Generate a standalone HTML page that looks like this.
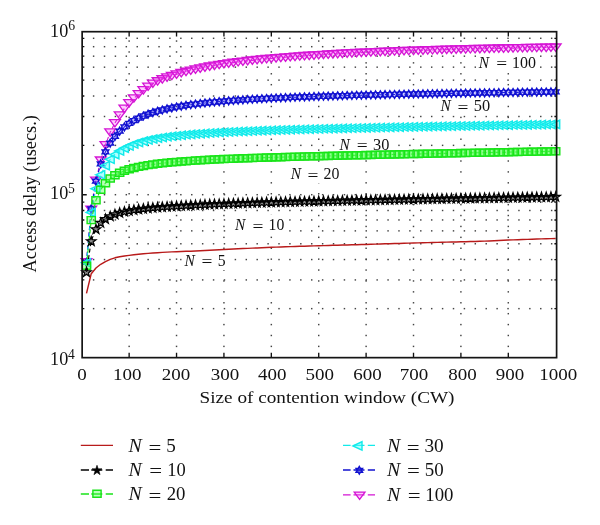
<!DOCTYPE html>
<html><head><meta charset="utf-8"><style>
html,body{margin:0;padding:0;background:#fff;overflow:hidden;}
svg{display:block;}
text{fill:#111;font-family:'Liberation Serif',serif;}
#m_n10{fill:#000;fill-opacity:0.45;stroke:#000;stroke-width:1.2;stroke-linejoin:miter;stroke-miterlimit:10;}
#m_n20{fill:#50ff50;fill-opacity:0.4;stroke:#18e418;stroke-width:1.45;}
#m_n30{fill:#50ffff;fill-opacity:0.45;stroke:#12eaea;stroke-width:1.45;}
#m_n50{fill:#5050ff;fill-opacity:0.3;stroke:#1010d0;stroke-width:1.45;}
#lm_n10{fill:#000;stroke:#000;stroke-width:0.6;}
#lm_n50{fill:#1010d0;fill-opacity:0.55;stroke:#1010d0;stroke-width:1.5;}
#m_n100{fill:#ff50ff;fill-opacity:0.3;stroke:#d414d4;stroke-width:1.3;}
</style></head>
<body><svg width="600" height="525" viewBox="0 0 600 525">
<rect width="600" height="525" fill="#fff"/>
<g fill="#444"><rect x="92.88" y="307.91" width="1.45" height="1.45"/><rect x="103.79" y="307.91" width="1.45" height="1.45"/><rect x="114.69" y="307.91" width="1.45" height="1.45"/><rect x="125.60" y="307.91" width="1.45" height="1.45"/><rect x="136.51" y="307.91" width="1.45" height="1.45"/><rect x="147.41" y="307.91" width="1.45" height="1.45"/><rect x="158.32" y="307.91" width="1.45" height="1.45"/><rect x="169.22" y="307.91" width="1.45" height="1.45"/><rect x="180.13" y="307.91" width="1.45" height="1.45"/><rect x="191.03" y="307.91" width="1.45" height="1.45"/><rect x="201.94" y="307.91" width="1.45" height="1.45"/><rect x="212.85" y="307.91" width="1.45" height="1.45"/><rect x="223.75" y="307.91" width="1.45" height="1.45"/><rect x="234.66" y="307.91" width="1.45" height="1.45"/><rect x="245.57" y="307.91" width="1.45" height="1.45"/><rect x="256.47" y="307.91" width="1.45" height="1.45"/><rect x="267.38" y="307.91" width="1.45" height="1.45"/><rect x="278.28" y="307.91" width="1.45" height="1.45"/><rect x="289.19" y="307.91" width="1.45" height="1.45"/><rect x="300.09" y="307.91" width="1.45" height="1.45"/><rect x="311.00" y="307.91" width="1.45" height="1.45"/><rect x="321.91" y="307.91" width="1.45" height="1.45"/><rect x="332.81" y="307.91" width="1.45" height="1.45"/><rect x="343.72" y="307.91" width="1.45" height="1.45"/><rect x="354.62" y="307.91" width="1.45" height="1.45"/><rect x="365.53" y="307.91" width="1.45" height="1.45"/><rect x="376.44" y="307.91" width="1.45" height="1.45"/><rect x="387.34" y="307.91" width="1.45" height="1.45"/><rect x="398.25" y="307.91" width="1.45" height="1.45"/><rect x="409.15" y="307.91" width="1.45" height="1.45"/><rect x="420.06" y="307.91" width="1.45" height="1.45"/><rect x="430.97" y="307.91" width="1.45" height="1.45"/><rect x="441.87" y="307.91" width="1.45" height="1.45"/><rect x="452.78" y="307.91" width="1.45" height="1.45"/><rect x="463.69" y="307.91" width="1.45" height="1.45"/><rect x="474.59" y="307.91" width="1.45" height="1.45"/><rect x="485.50" y="307.91" width="1.45" height="1.45"/><rect x="496.40" y="307.91" width="1.45" height="1.45"/><rect x="507.31" y="307.91" width="1.45" height="1.45"/><rect x="518.22" y="307.91" width="1.45" height="1.45"/><rect x="529.12" y="307.91" width="1.45" height="1.45"/><rect x="540.03" y="307.91" width="1.45" height="1.45"/><rect x="550.93" y="307.91" width="1.45" height="1.45"/><rect x="92.88" y="279.20" width="1.45" height="1.45"/><rect x="103.79" y="279.20" width="1.45" height="1.45"/><rect x="114.69" y="279.20" width="1.45" height="1.45"/><rect x="125.60" y="279.20" width="1.45" height="1.45"/><rect x="136.51" y="279.20" width="1.45" height="1.45"/><rect x="147.41" y="279.20" width="1.45" height="1.45"/><rect x="158.32" y="279.20" width="1.45" height="1.45"/><rect x="169.22" y="279.20" width="1.45" height="1.45"/><rect x="180.13" y="279.20" width="1.45" height="1.45"/><rect x="191.03" y="279.20" width="1.45" height="1.45"/><rect x="201.94" y="279.20" width="1.45" height="1.45"/><rect x="212.85" y="279.20" width="1.45" height="1.45"/><rect x="223.75" y="279.20" width="1.45" height="1.45"/><rect x="234.66" y="279.20" width="1.45" height="1.45"/><rect x="245.57" y="279.20" width="1.45" height="1.45"/><rect x="256.47" y="279.20" width="1.45" height="1.45"/><rect x="267.38" y="279.20" width="1.45" height="1.45"/><rect x="278.28" y="279.20" width="1.45" height="1.45"/><rect x="289.19" y="279.20" width="1.45" height="1.45"/><rect x="300.09" y="279.20" width="1.45" height="1.45"/><rect x="311.00" y="279.20" width="1.45" height="1.45"/><rect x="321.91" y="279.20" width="1.45" height="1.45"/><rect x="332.81" y="279.20" width="1.45" height="1.45"/><rect x="343.72" y="279.20" width="1.45" height="1.45"/><rect x="354.62" y="279.20" width="1.45" height="1.45"/><rect x="365.53" y="279.20" width="1.45" height="1.45"/><rect x="376.44" y="279.20" width="1.45" height="1.45"/><rect x="387.34" y="279.20" width="1.45" height="1.45"/><rect x="398.25" y="279.20" width="1.45" height="1.45"/><rect x="409.15" y="279.20" width="1.45" height="1.45"/><rect x="420.06" y="279.20" width="1.45" height="1.45"/><rect x="430.97" y="279.20" width="1.45" height="1.45"/><rect x="441.87" y="279.20" width="1.45" height="1.45"/><rect x="452.78" y="279.20" width="1.45" height="1.45"/><rect x="463.69" y="279.20" width="1.45" height="1.45"/><rect x="474.59" y="279.20" width="1.45" height="1.45"/><rect x="485.50" y="279.20" width="1.45" height="1.45"/><rect x="496.40" y="279.20" width="1.45" height="1.45"/><rect x="507.31" y="279.20" width="1.45" height="1.45"/><rect x="518.22" y="279.20" width="1.45" height="1.45"/><rect x="529.12" y="279.20" width="1.45" height="1.45"/><rect x="540.03" y="279.20" width="1.45" height="1.45"/><rect x="550.93" y="279.20" width="1.45" height="1.45"/><rect x="92.88" y="258.84" width="1.45" height="1.45"/><rect x="103.79" y="258.84" width="1.45" height="1.45"/><rect x="114.69" y="258.84" width="1.45" height="1.45"/><rect x="125.60" y="258.84" width="1.45" height="1.45"/><rect x="136.51" y="258.84" width="1.45" height="1.45"/><rect x="147.41" y="258.84" width="1.45" height="1.45"/><rect x="158.32" y="258.84" width="1.45" height="1.45"/><rect x="169.22" y="258.84" width="1.45" height="1.45"/><rect x="180.13" y="258.84" width="1.45" height="1.45"/><rect x="191.03" y="258.84" width="1.45" height="1.45"/><rect x="201.94" y="258.84" width="1.45" height="1.45"/><rect x="212.85" y="258.84" width="1.45" height="1.45"/><rect x="223.75" y="258.84" width="1.45" height="1.45"/><rect x="234.66" y="258.84" width="1.45" height="1.45"/><rect x="245.57" y="258.84" width="1.45" height="1.45"/><rect x="256.47" y="258.84" width="1.45" height="1.45"/><rect x="267.38" y="258.84" width="1.45" height="1.45"/><rect x="278.28" y="258.84" width="1.45" height="1.45"/><rect x="289.19" y="258.84" width="1.45" height="1.45"/><rect x="300.09" y="258.84" width="1.45" height="1.45"/><rect x="311.00" y="258.84" width="1.45" height="1.45"/><rect x="321.91" y="258.84" width="1.45" height="1.45"/><rect x="332.81" y="258.84" width="1.45" height="1.45"/><rect x="343.72" y="258.84" width="1.45" height="1.45"/><rect x="354.62" y="258.84" width="1.45" height="1.45"/><rect x="365.53" y="258.84" width="1.45" height="1.45"/><rect x="376.44" y="258.84" width="1.45" height="1.45"/><rect x="387.34" y="258.84" width="1.45" height="1.45"/><rect x="398.25" y="258.84" width="1.45" height="1.45"/><rect x="409.15" y="258.84" width="1.45" height="1.45"/><rect x="420.06" y="258.84" width="1.45" height="1.45"/><rect x="430.97" y="258.84" width="1.45" height="1.45"/><rect x="441.87" y="258.84" width="1.45" height="1.45"/><rect x="452.78" y="258.84" width="1.45" height="1.45"/><rect x="463.69" y="258.84" width="1.45" height="1.45"/><rect x="474.59" y="258.84" width="1.45" height="1.45"/><rect x="485.50" y="258.84" width="1.45" height="1.45"/><rect x="496.40" y="258.84" width="1.45" height="1.45"/><rect x="507.31" y="258.84" width="1.45" height="1.45"/><rect x="518.22" y="258.84" width="1.45" height="1.45"/><rect x="529.12" y="258.84" width="1.45" height="1.45"/><rect x="540.03" y="258.84" width="1.45" height="1.45"/><rect x="550.93" y="258.84" width="1.45" height="1.45"/><rect x="92.88" y="243.04" width="1.45" height="1.45"/><rect x="103.79" y="243.04" width="1.45" height="1.45"/><rect x="114.69" y="243.04" width="1.45" height="1.45"/><rect x="125.60" y="243.04" width="1.45" height="1.45"/><rect x="136.51" y="243.04" width="1.45" height="1.45"/><rect x="147.41" y="243.04" width="1.45" height="1.45"/><rect x="158.32" y="243.04" width="1.45" height="1.45"/><rect x="169.22" y="243.04" width="1.45" height="1.45"/><rect x="180.13" y="243.04" width="1.45" height="1.45"/><rect x="191.03" y="243.04" width="1.45" height="1.45"/><rect x="201.94" y="243.04" width="1.45" height="1.45"/><rect x="212.85" y="243.04" width="1.45" height="1.45"/><rect x="223.75" y="243.04" width="1.45" height="1.45"/><rect x="234.66" y="243.04" width="1.45" height="1.45"/><rect x="245.57" y="243.04" width="1.45" height="1.45"/><rect x="256.47" y="243.04" width="1.45" height="1.45"/><rect x="267.38" y="243.04" width="1.45" height="1.45"/><rect x="278.28" y="243.04" width="1.45" height="1.45"/><rect x="289.19" y="243.04" width="1.45" height="1.45"/><rect x="300.09" y="243.04" width="1.45" height="1.45"/><rect x="311.00" y="243.04" width="1.45" height="1.45"/><rect x="321.91" y="243.04" width="1.45" height="1.45"/><rect x="332.81" y="243.04" width="1.45" height="1.45"/><rect x="343.72" y="243.04" width="1.45" height="1.45"/><rect x="354.62" y="243.04" width="1.45" height="1.45"/><rect x="365.53" y="243.04" width="1.45" height="1.45"/><rect x="376.44" y="243.04" width="1.45" height="1.45"/><rect x="387.34" y="243.04" width="1.45" height="1.45"/><rect x="398.25" y="243.04" width="1.45" height="1.45"/><rect x="409.15" y="243.04" width="1.45" height="1.45"/><rect x="420.06" y="243.04" width="1.45" height="1.45"/><rect x="430.97" y="243.04" width="1.45" height="1.45"/><rect x="441.87" y="243.04" width="1.45" height="1.45"/><rect x="452.78" y="243.04" width="1.45" height="1.45"/><rect x="463.69" y="243.04" width="1.45" height="1.45"/><rect x="474.59" y="243.04" width="1.45" height="1.45"/><rect x="485.50" y="243.04" width="1.45" height="1.45"/><rect x="496.40" y="243.04" width="1.45" height="1.45"/><rect x="507.31" y="243.04" width="1.45" height="1.45"/><rect x="518.22" y="243.04" width="1.45" height="1.45"/><rect x="529.12" y="243.04" width="1.45" height="1.45"/><rect x="540.03" y="243.04" width="1.45" height="1.45"/><rect x="550.93" y="243.04" width="1.45" height="1.45"/><rect x="92.88" y="230.14" width="1.45" height="1.45"/><rect x="103.79" y="230.14" width="1.45" height="1.45"/><rect x="114.69" y="230.14" width="1.45" height="1.45"/><rect x="125.60" y="230.14" width="1.45" height="1.45"/><rect x="136.51" y="230.14" width="1.45" height="1.45"/><rect x="147.41" y="230.14" width="1.45" height="1.45"/><rect x="158.32" y="230.14" width="1.45" height="1.45"/><rect x="169.22" y="230.14" width="1.45" height="1.45"/><rect x="180.13" y="230.14" width="1.45" height="1.45"/><rect x="191.03" y="230.14" width="1.45" height="1.45"/><rect x="201.94" y="230.14" width="1.45" height="1.45"/><rect x="212.85" y="230.14" width="1.45" height="1.45"/><rect x="223.75" y="230.14" width="1.45" height="1.45"/><rect x="234.66" y="230.14" width="1.45" height="1.45"/><rect x="245.57" y="230.14" width="1.45" height="1.45"/><rect x="256.47" y="230.14" width="1.45" height="1.45"/><rect x="267.38" y="230.14" width="1.45" height="1.45"/><rect x="278.28" y="230.14" width="1.45" height="1.45"/><rect x="289.19" y="230.14" width="1.45" height="1.45"/><rect x="300.09" y="230.14" width="1.45" height="1.45"/><rect x="311.00" y="230.14" width="1.45" height="1.45"/><rect x="321.91" y="230.14" width="1.45" height="1.45"/><rect x="332.81" y="230.14" width="1.45" height="1.45"/><rect x="343.72" y="230.14" width="1.45" height="1.45"/><rect x="354.62" y="230.14" width="1.45" height="1.45"/><rect x="365.53" y="230.14" width="1.45" height="1.45"/><rect x="376.44" y="230.14" width="1.45" height="1.45"/><rect x="387.34" y="230.14" width="1.45" height="1.45"/><rect x="398.25" y="230.14" width="1.45" height="1.45"/><rect x="409.15" y="230.14" width="1.45" height="1.45"/><rect x="420.06" y="230.14" width="1.45" height="1.45"/><rect x="430.97" y="230.14" width="1.45" height="1.45"/><rect x="441.87" y="230.14" width="1.45" height="1.45"/><rect x="452.78" y="230.14" width="1.45" height="1.45"/><rect x="463.69" y="230.14" width="1.45" height="1.45"/><rect x="474.59" y="230.14" width="1.45" height="1.45"/><rect x="485.50" y="230.14" width="1.45" height="1.45"/><rect x="496.40" y="230.14" width="1.45" height="1.45"/><rect x="507.31" y="230.14" width="1.45" height="1.45"/><rect x="518.22" y="230.14" width="1.45" height="1.45"/><rect x="529.12" y="230.14" width="1.45" height="1.45"/><rect x="540.03" y="230.14" width="1.45" height="1.45"/><rect x="550.93" y="230.14" width="1.45" height="1.45"/><rect x="92.88" y="219.22" width="1.45" height="1.45"/><rect x="103.79" y="219.22" width="1.45" height="1.45"/><rect x="114.69" y="219.22" width="1.45" height="1.45"/><rect x="125.60" y="219.22" width="1.45" height="1.45"/><rect x="136.51" y="219.22" width="1.45" height="1.45"/><rect x="147.41" y="219.22" width="1.45" height="1.45"/><rect x="158.32" y="219.22" width="1.45" height="1.45"/><rect x="169.22" y="219.22" width="1.45" height="1.45"/><rect x="180.13" y="219.22" width="1.45" height="1.45"/><rect x="191.03" y="219.22" width="1.45" height="1.45"/><rect x="201.94" y="219.22" width="1.45" height="1.45"/><rect x="212.85" y="219.22" width="1.45" height="1.45"/><rect x="223.75" y="219.22" width="1.45" height="1.45"/><rect x="234.66" y="219.22" width="1.45" height="1.45"/><rect x="245.57" y="219.22" width="1.45" height="1.45"/><rect x="256.47" y="219.22" width="1.45" height="1.45"/><rect x="267.38" y="219.22" width="1.45" height="1.45"/><rect x="278.28" y="219.22" width="1.45" height="1.45"/><rect x="289.19" y="219.22" width="1.45" height="1.45"/><rect x="300.09" y="219.22" width="1.45" height="1.45"/><rect x="311.00" y="219.22" width="1.45" height="1.45"/><rect x="321.91" y="219.22" width="1.45" height="1.45"/><rect x="332.81" y="219.22" width="1.45" height="1.45"/><rect x="343.72" y="219.22" width="1.45" height="1.45"/><rect x="354.62" y="219.22" width="1.45" height="1.45"/><rect x="365.53" y="219.22" width="1.45" height="1.45"/><rect x="376.44" y="219.22" width="1.45" height="1.45"/><rect x="387.34" y="219.22" width="1.45" height="1.45"/><rect x="398.25" y="219.22" width="1.45" height="1.45"/><rect x="409.15" y="219.22" width="1.45" height="1.45"/><rect x="420.06" y="219.22" width="1.45" height="1.45"/><rect x="430.97" y="219.22" width="1.45" height="1.45"/><rect x="441.87" y="219.22" width="1.45" height="1.45"/><rect x="452.78" y="219.22" width="1.45" height="1.45"/><rect x="463.69" y="219.22" width="1.45" height="1.45"/><rect x="474.59" y="219.22" width="1.45" height="1.45"/><rect x="485.50" y="219.22" width="1.45" height="1.45"/><rect x="496.40" y="219.22" width="1.45" height="1.45"/><rect x="507.31" y="219.22" width="1.45" height="1.45"/><rect x="518.22" y="219.22" width="1.45" height="1.45"/><rect x="529.12" y="219.22" width="1.45" height="1.45"/><rect x="540.03" y="219.22" width="1.45" height="1.45"/><rect x="550.93" y="219.22" width="1.45" height="1.45"/><rect x="92.88" y="209.77" width="1.45" height="1.45"/><rect x="103.79" y="209.77" width="1.45" height="1.45"/><rect x="114.69" y="209.77" width="1.45" height="1.45"/><rect x="125.60" y="209.77" width="1.45" height="1.45"/><rect x="136.51" y="209.77" width="1.45" height="1.45"/><rect x="147.41" y="209.77" width="1.45" height="1.45"/><rect x="158.32" y="209.77" width="1.45" height="1.45"/><rect x="169.22" y="209.77" width="1.45" height="1.45"/><rect x="180.13" y="209.77" width="1.45" height="1.45"/><rect x="191.03" y="209.77" width="1.45" height="1.45"/><rect x="201.94" y="209.77" width="1.45" height="1.45"/><rect x="212.85" y="209.77" width="1.45" height="1.45"/><rect x="223.75" y="209.77" width="1.45" height="1.45"/><rect x="234.66" y="209.77" width="1.45" height="1.45"/><rect x="245.57" y="209.77" width="1.45" height="1.45"/><rect x="256.47" y="209.77" width="1.45" height="1.45"/><rect x="267.38" y="209.77" width="1.45" height="1.45"/><rect x="278.28" y="209.77" width="1.45" height="1.45"/><rect x="289.19" y="209.77" width="1.45" height="1.45"/><rect x="300.09" y="209.77" width="1.45" height="1.45"/><rect x="311.00" y="209.77" width="1.45" height="1.45"/><rect x="321.91" y="209.77" width="1.45" height="1.45"/><rect x="332.81" y="209.77" width="1.45" height="1.45"/><rect x="343.72" y="209.77" width="1.45" height="1.45"/><rect x="354.62" y="209.77" width="1.45" height="1.45"/><rect x="365.53" y="209.77" width="1.45" height="1.45"/><rect x="376.44" y="209.77" width="1.45" height="1.45"/><rect x="387.34" y="209.77" width="1.45" height="1.45"/><rect x="398.25" y="209.77" width="1.45" height="1.45"/><rect x="409.15" y="209.77" width="1.45" height="1.45"/><rect x="420.06" y="209.77" width="1.45" height="1.45"/><rect x="430.97" y="209.77" width="1.45" height="1.45"/><rect x="441.87" y="209.77" width="1.45" height="1.45"/><rect x="452.78" y="209.77" width="1.45" height="1.45"/><rect x="463.69" y="209.77" width="1.45" height="1.45"/><rect x="474.59" y="209.77" width="1.45" height="1.45"/><rect x="485.50" y="209.77" width="1.45" height="1.45"/><rect x="496.40" y="209.77" width="1.45" height="1.45"/><rect x="507.31" y="209.77" width="1.45" height="1.45"/><rect x="518.22" y="209.77" width="1.45" height="1.45"/><rect x="529.12" y="209.77" width="1.45" height="1.45"/><rect x="540.03" y="209.77" width="1.45" height="1.45"/><rect x="550.93" y="209.77" width="1.45" height="1.45"/><rect x="92.88" y="201.43" width="1.45" height="1.45"/><rect x="103.79" y="201.43" width="1.45" height="1.45"/><rect x="114.69" y="201.43" width="1.45" height="1.45"/><rect x="125.60" y="201.43" width="1.45" height="1.45"/><rect x="136.51" y="201.43" width="1.45" height="1.45"/><rect x="147.41" y="201.43" width="1.45" height="1.45"/><rect x="158.32" y="201.43" width="1.45" height="1.45"/><rect x="169.22" y="201.43" width="1.45" height="1.45"/><rect x="180.13" y="201.43" width="1.45" height="1.45"/><rect x="191.03" y="201.43" width="1.45" height="1.45"/><rect x="201.94" y="201.43" width="1.45" height="1.45"/><rect x="212.85" y="201.43" width="1.45" height="1.45"/><rect x="223.75" y="201.43" width="1.45" height="1.45"/><rect x="234.66" y="201.43" width="1.45" height="1.45"/><rect x="245.57" y="201.43" width="1.45" height="1.45"/><rect x="256.47" y="201.43" width="1.45" height="1.45"/><rect x="267.38" y="201.43" width="1.45" height="1.45"/><rect x="278.28" y="201.43" width="1.45" height="1.45"/><rect x="289.19" y="201.43" width="1.45" height="1.45"/><rect x="300.09" y="201.43" width="1.45" height="1.45"/><rect x="311.00" y="201.43" width="1.45" height="1.45"/><rect x="321.91" y="201.43" width="1.45" height="1.45"/><rect x="332.81" y="201.43" width="1.45" height="1.45"/><rect x="343.72" y="201.43" width="1.45" height="1.45"/><rect x="354.62" y="201.43" width="1.45" height="1.45"/><rect x="365.53" y="201.43" width="1.45" height="1.45"/><rect x="376.44" y="201.43" width="1.45" height="1.45"/><rect x="387.34" y="201.43" width="1.45" height="1.45"/><rect x="398.25" y="201.43" width="1.45" height="1.45"/><rect x="409.15" y="201.43" width="1.45" height="1.45"/><rect x="420.06" y="201.43" width="1.45" height="1.45"/><rect x="430.97" y="201.43" width="1.45" height="1.45"/><rect x="441.87" y="201.43" width="1.45" height="1.45"/><rect x="452.78" y="201.43" width="1.45" height="1.45"/><rect x="463.69" y="201.43" width="1.45" height="1.45"/><rect x="474.59" y="201.43" width="1.45" height="1.45"/><rect x="485.50" y="201.43" width="1.45" height="1.45"/><rect x="496.40" y="201.43" width="1.45" height="1.45"/><rect x="507.31" y="201.43" width="1.45" height="1.45"/><rect x="518.22" y="201.43" width="1.45" height="1.45"/><rect x="529.12" y="201.43" width="1.45" height="1.45"/><rect x="540.03" y="201.43" width="1.45" height="1.45"/><rect x="550.93" y="201.43" width="1.45" height="1.45"/><rect x="92.88" y="193.97" width="1.45" height="1.45"/><rect x="103.79" y="193.97" width="1.45" height="1.45"/><rect x="114.69" y="193.97" width="1.45" height="1.45"/><rect x="125.60" y="193.97" width="1.45" height="1.45"/><rect x="136.51" y="193.97" width="1.45" height="1.45"/><rect x="147.41" y="193.97" width="1.45" height="1.45"/><rect x="158.32" y="193.97" width="1.45" height="1.45"/><rect x="169.22" y="193.97" width="1.45" height="1.45"/><rect x="180.13" y="193.97" width="1.45" height="1.45"/><rect x="191.03" y="193.97" width="1.45" height="1.45"/><rect x="201.94" y="193.97" width="1.45" height="1.45"/><rect x="212.85" y="193.97" width="1.45" height="1.45"/><rect x="223.75" y="193.97" width="1.45" height="1.45"/><rect x="234.66" y="193.97" width="1.45" height="1.45"/><rect x="245.57" y="193.97" width="1.45" height="1.45"/><rect x="256.47" y="193.97" width="1.45" height="1.45"/><rect x="267.38" y="193.97" width="1.45" height="1.45"/><rect x="278.28" y="193.97" width="1.45" height="1.45"/><rect x="289.19" y="193.97" width="1.45" height="1.45"/><rect x="300.09" y="193.97" width="1.45" height="1.45"/><rect x="311.00" y="193.97" width="1.45" height="1.45"/><rect x="321.91" y="193.97" width="1.45" height="1.45"/><rect x="332.81" y="193.97" width="1.45" height="1.45"/><rect x="343.72" y="193.97" width="1.45" height="1.45"/><rect x="354.62" y="193.97" width="1.45" height="1.45"/><rect x="365.53" y="193.97" width="1.45" height="1.45"/><rect x="376.44" y="193.97" width="1.45" height="1.45"/><rect x="387.34" y="193.97" width="1.45" height="1.45"/><rect x="398.25" y="193.97" width="1.45" height="1.45"/><rect x="409.15" y="193.97" width="1.45" height="1.45"/><rect x="420.06" y="193.97" width="1.45" height="1.45"/><rect x="430.97" y="193.97" width="1.45" height="1.45"/><rect x="441.87" y="193.97" width="1.45" height="1.45"/><rect x="452.78" y="193.97" width="1.45" height="1.45"/><rect x="463.69" y="193.97" width="1.45" height="1.45"/><rect x="474.59" y="193.97" width="1.45" height="1.45"/><rect x="485.50" y="193.97" width="1.45" height="1.45"/><rect x="496.40" y="193.97" width="1.45" height="1.45"/><rect x="507.31" y="193.97" width="1.45" height="1.45"/><rect x="518.22" y="193.97" width="1.45" height="1.45"/><rect x="529.12" y="193.97" width="1.45" height="1.45"/><rect x="540.03" y="193.97" width="1.45" height="1.45"/><rect x="550.93" y="193.97" width="1.45" height="1.45"/><rect x="92.88" y="144.64" width="1.45" height="1.45"/><rect x="103.79" y="144.64" width="1.45" height="1.45"/><rect x="114.69" y="144.64" width="1.45" height="1.45"/><rect x="125.60" y="144.64" width="1.45" height="1.45"/><rect x="136.51" y="144.64" width="1.45" height="1.45"/><rect x="147.41" y="144.64" width="1.45" height="1.45"/><rect x="158.32" y="144.64" width="1.45" height="1.45"/><rect x="169.22" y="144.64" width="1.45" height="1.45"/><rect x="180.13" y="144.64" width="1.45" height="1.45"/><rect x="191.03" y="144.64" width="1.45" height="1.45"/><rect x="201.94" y="144.64" width="1.45" height="1.45"/><rect x="212.85" y="144.64" width="1.45" height="1.45"/><rect x="223.75" y="144.64" width="1.45" height="1.45"/><rect x="234.66" y="144.64" width="1.45" height="1.45"/><rect x="245.57" y="144.64" width="1.45" height="1.45"/><rect x="256.47" y="144.64" width="1.45" height="1.45"/><rect x="267.38" y="144.64" width="1.45" height="1.45"/><rect x="278.28" y="144.64" width="1.45" height="1.45"/><rect x="289.19" y="144.64" width="1.45" height="1.45"/><rect x="300.09" y="144.64" width="1.45" height="1.45"/><rect x="311.00" y="144.64" width="1.45" height="1.45"/><rect x="321.91" y="144.64" width="1.45" height="1.45"/><rect x="332.81" y="144.64" width="1.45" height="1.45"/><rect x="343.72" y="144.64" width="1.45" height="1.45"/><rect x="354.62" y="144.64" width="1.45" height="1.45"/><rect x="365.53" y="144.64" width="1.45" height="1.45"/><rect x="376.44" y="144.64" width="1.45" height="1.45"/><rect x="387.34" y="144.64" width="1.45" height="1.45"/><rect x="398.25" y="144.64" width="1.45" height="1.45"/><rect x="409.15" y="144.64" width="1.45" height="1.45"/><rect x="420.06" y="144.64" width="1.45" height="1.45"/><rect x="430.97" y="144.64" width="1.45" height="1.45"/><rect x="441.87" y="144.64" width="1.45" height="1.45"/><rect x="452.78" y="144.64" width="1.45" height="1.45"/><rect x="463.69" y="144.64" width="1.45" height="1.45"/><rect x="474.59" y="144.64" width="1.45" height="1.45"/><rect x="485.50" y="144.64" width="1.45" height="1.45"/><rect x="496.40" y="144.64" width="1.45" height="1.45"/><rect x="507.31" y="144.64" width="1.45" height="1.45"/><rect x="518.22" y="144.64" width="1.45" height="1.45"/><rect x="529.12" y="144.64" width="1.45" height="1.45"/><rect x="540.03" y="144.64" width="1.45" height="1.45"/><rect x="550.93" y="144.64" width="1.45" height="1.45"/><rect x="92.88" y="115.77" width="1.45" height="1.45"/><rect x="103.79" y="115.77" width="1.45" height="1.45"/><rect x="114.69" y="115.77" width="1.45" height="1.45"/><rect x="125.60" y="115.77" width="1.45" height="1.45"/><rect x="136.51" y="115.77" width="1.45" height="1.45"/><rect x="147.41" y="115.77" width="1.45" height="1.45"/><rect x="158.32" y="115.77" width="1.45" height="1.45"/><rect x="169.22" y="115.77" width="1.45" height="1.45"/><rect x="180.13" y="115.77" width="1.45" height="1.45"/><rect x="191.03" y="115.77" width="1.45" height="1.45"/><rect x="201.94" y="115.77" width="1.45" height="1.45"/><rect x="212.85" y="115.77" width="1.45" height="1.45"/><rect x="223.75" y="115.77" width="1.45" height="1.45"/><rect x="234.66" y="115.77" width="1.45" height="1.45"/><rect x="245.57" y="115.77" width="1.45" height="1.45"/><rect x="256.47" y="115.77" width="1.45" height="1.45"/><rect x="267.38" y="115.77" width="1.45" height="1.45"/><rect x="278.28" y="115.77" width="1.45" height="1.45"/><rect x="289.19" y="115.77" width="1.45" height="1.45"/><rect x="300.09" y="115.77" width="1.45" height="1.45"/><rect x="311.00" y="115.77" width="1.45" height="1.45"/><rect x="321.91" y="115.77" width="1.45" height="1.45"/><rect x="332.81" y="115.77" width="1.45" height="1.45"/><rect x="343.72" y="115.77" width="1.45" height="1.45"/><rect x="354.62" y="115.77" width="1.45" height="1.45"/><rect x="365.53" y="115.77" width="1.45" height="1.45"/><rect x="376.44" y="115.77" width="1.45" height="1.45"/><rect x="387.34" y="115.77" width="1.45" height="1.45"/><rect x="398.25" y="115.77" width="1.45" height="1.45"/><rect x="409.15" y="115.77" width="1.45" height="1.45"/><rect x="420.06" y="115.77" width="1.45" height="1.45"/><rect x="430.97" y="115.77" width="1.45" height="1.45"/><rect x="441.87" y="115.77" width="1.45" height="1.45"/><rect x="452.78" y="115.77" width="1.45" height="1.45"/><rect x="463.69" y="115.77" width="1.45" height="1.45"/><rect x="474.59" y="115.77" width="1.45" height="1.45"/><rect x="485.50" y="115.77" width="1.45" height="1.45"/><rect x="496.40" y="115.77" width="1.45" height="1.45"/><rect x="507.31" y="115.77" width="1.45" height="1.45"/><rect x="518.22" y="115.77" width="1.45" height="1.45"/><rect x="529.12" y="115.77" width="1.45" height="1.45"/><rect x="540.03" y="115.77" width="1.45" height="1.45"/><rect x="550.93" y="115.77" width="1.45" height="1.45"/><rect x="92.88" y="95.30" width="1.45" height="1.45"/><rect x="103.79" y="95.30" width="1.45" height="1.45"/><rect x="114.69" y="95.30" width="1.45" height="1.45"/><rect x="125.60" y="95.30" width="1.45" height="1.45"/><rect x="136.51" y="95.30" width="1.45" height="1.45"/><rect x="147.41" y="95.30" width="1.45" height="1.45"/><rect x="158.32" y="95.30" width="1.45" height="1.45"/><rect x="169.22" y="95.30" width="1.45" height="1.45"/><rect x="180.13" y="95.30" width="1.45" height="1.45"/><rect x="191.03" y="95.30" width="1.45" height="1.45"/><rect x="201.94" y="95.30" width="1.45" height="1.45"/><rect x="212.85" y="95.30" width="1.45" height="1.45"/><rect x="223.75" y="95.30" width="1.45" height="1.45"/><rect x="234.66" y="95.30" width="1.45" height="1.45"/><rect x="245.57" y="95.30" width="1.45" height="1.45"/><rect x="256.47" y="95.30" width="1.45" height="1.45"/><rect x="267.38" y="95.30" width="1.45" height="1.45"/><rect x="278.28" y="95.30" width="1.45" height="1.45"/><rect x="289.19" y="95.30" width="1.45" height="1.45"/><rect x="300.09" y="95.30" width="1.45" height="1.45"/><rect x="311.00" y="95.30" width="1.45" height="1.45"/><rect x="321.91" y="95.30" width="1.45" height="1.45"/><rect x="332.81" y="95.30" width="1.45" height="1.45"/><rect x="343.72" y="95.30" width="1.45" height="1.45"/><rect x="354.62" y="95.30" width="1.45" height="1.45"/><rect x="365.53" y="95.30" width="1.45" height="1.45"/><rect x="376.44" y="95.30" width="1.45" height="1.45"/><rect x="387.34" y="95.30" width="1.45" height="1.45"/><rect x="398.25" y="95.30" width="1.45" height="1.45"/><rect x="409.15" y="95.30" width="1.45" height="1.45"/><rect x="420.06" y="95.30" width="1.45" height="1.45"/><rect x="430.97" y="95.30" width="1.45" height="1.45"/><rect x="441.87" y="95.30" width="1.45" height="1.45"/><rect x="452.78" y="95.30" width="1.45" height="1.45"/><rect x="463.69" y="95.30" width="1.45" height="1.45"/><rect x="474.59" y="95.30" width="1.45" height="1.45"/><rect x="485.50" y="95.30" width="1.45" height="1.45"/><rect x="496.40" y="95.30" width="1.45" height="1.45"/><rect x="507.31" y="95.30" width="1.45" height="1.45"/><rect x="518.22" y="95.30" width="1.45" height="1.45"/><rect x="529.12" y="95.30" width="1.45" height="1.45"/><rect x="540.03" y="95.30" width="1.45" height="1.45"/><rect x="550.93" y="95.30" width="1.45" height="1.45"/><rect x="92.88" y="79.41" width="1.45" height="1.45"/><rect x="103.79" y="79.41" width="1.45" height="1.45"/><rect x="114.69" y="79.41" width="1.45" height="1.45"/><rect x="125.60" y="79.41" width="1.45" height="1.45"/><rect x="136.51" y="79.41" width="1.45" height="1.45"/><rect x="147.41" y="79.41" width="1.45" height="1.45"/><rect x="158.32" y="79.41" width="1.45" height="1.45"/><rect x="169.22" y="79.41" width="1.45" height="1.45"/><rect x="180.13" y="79.41" width="1.45" height="1.45"/><rect x="191.03" y="79.41" width="1.45" height="1.45"/><rect x="201.94" y="79.41" width="1.45" height="1.45"/><rect x="212.85" y="79.41" width="1.45" height="1.45"/><rect x="223.75" y="79.41" width="1.45" height="1.45"/><rect x="234.66" y="79.41" width="1.45" height="1.45"/><rect x="245.57" y="79.41" width="1.45" height="1.45"/><rect x="256.47" y="79.41" width="1.45" height="1.45"/><rect x="267.38" y="79.41" width="1.45" height="1.45"/><rect x="278.28" y="79.41" width="1.45" height="1.45"/><rect x="289.19" y="79.41" width="1.45" height="1.45"/><rect x="300.09" y="79.41" width="1.45" height="1.45"/><rect x="311.00" y="79.41" width="1.45" height="1.45"/><rect x="321.91" y="79.41" width="1.45" height="1.45"/><rect x="332.81" y="79.41" width="1.45" height="1.45"/><rect x="343.72" y="79.41" width="1.45" height="1.45"/><rect x="354.62" y="79.41" width="1.45" height="1.45"/><rect x="365.53" y="79.41" width="1.45" height="1.45"/><rect x="376.44" y="79.41" width="1.45" height="1.45"/><rect x="387.34" y="79.41" width="1.45" height="1.45"/><rect x="398.25" y="79.41" width="1.45" height="1.45"/><rect x="409.15" y="79.41" width="1.45" height="1.45"/><rect x="420.06" y="79.41" width="1.45" height="1.45"/><rect x="430.97" y="79.41" width="1.45" height="1.45"/><rect x="441.87" y="79.41" width="1.45" height="1.45"/><rect x="452.78" y="79.41" width="1.45" height="1.45"/><rect x="463.69" y="79.41" width="1.45" height="1.45"/><rect x="474.59" y="79.41" width="1.45" height="1.45"/><rect x="485.50" y="79.41" width="1.45" height="1.45"/><rect x="496.40" y="79.41" width="1.45" height="1.45"/><rect x="507.31" y="79.41" width="1.45" height="1.45"/><rect x="518.22" y="79.41" width="1.45" height="1.45"/><rect x="529.12" y="79.41" width="1.45" height="1.45"/><rect x="540.03" y="79.41" width="1.45" height="1.45"/><rect x="550.93" y="79.41" width="1.45" height="1.45"/><rect x="92.88" y="66.44" width="1.45" height="1.45"/><rect x="103.79" y="66.44" width="1.45" height="1.45"/><rect x="114.69" y="66.44" width="1.45" height="1.45"/><rect x="125.60" y="66.44" width="1.45" height="1.45"/><rect x="136.51" y="66.44" width="1.45" height="1.45"/><rect x="147.41" y="66.44" width="1.45" height="1.45"/><rect x="158.32" y="66.44" width="1.45" height="1.45"/><rect x="169.22" y="66.44" width="1.45" height="1.45"/><rect x="180.13" y="66.44" width="1.45" height="1.45"/><rect x="191.03" y="66.44" width="1.45" height="1.45"/><rect x="201.94" y="66.44" width="1.45" height="1.45"/><rect x="212.85" y="66.44" width="1.45" height="1.45"/><rect x="223.75" y="66.44" width="1.45" height="1.45"/><rect x="234.66" y="66.44" width="1.45" height="1.45"/><rect x="245.57" y="66.44" width="1.45" height="1.45"/><rect x="256.47" y="66.44" width="1.45" height="1.45"/><rect x="267.38" y="66.44" width="1.45" height="1.45"/><rect x="278.28" y="66.44" width="1.45" height="1.45"/><rect x="289.19" y="66.44" width="1.45" height="1.45"/><rect x="300.09" y="66.44" width="1.45" height="1.45"/><rect x="311.00" y="66.44" width="1.45" height="1.45"/><rect x="321.91" y="66.44" width="1.45" height="1.45"/><rect x="332.81" y="66.44" width="1.45" height="1.45"/><rect x="343.72" y="66.44" width="1.45" height="1.45"/><rect x="354.62" y="66.44" width="1.45" height="1.45"/><rect x="365.53" y="66.44" width="1.45" height="1.45"/><rect x="376.44" y="66.44" width="1.45" height="1.45"/><rect x="387.34" y="66.44" width="1.45" height="1.45"/><rect x="398.25" y="66.44" width="1.45" height="1.45"/><rect x="409.15" y="66.44" width="1.45" height="1.45"/><rect x="420.06" y="66.44" width="1.45" height="1.45"/><rect x="430.97" y="66.44" width="1.45" height="1.45"/><rect x="441.87" y="66.44" width="1.45" height="1.45"/><rect x="452.78" y="66.44" width="1.45" height="1.45"/><rect x="463.69" y="66.44" width="1.45" height="1.45"/><rect x="474.59" y="66.44" width="1.45" height="1.45"/><rect x="485.50" y="66.44" width="1.45" height="1.45"/><rect x="496.40" y="66.44" width="1.45" height="1.45"/><rect x="507.31" y="66.44" width="1.45" height="1.45"/><rect x="518.22" y="66.44" width="1.45" height="1.45"/><rect x="529.12" y="66.44" width="1.45" height="1.45"/><rect x="540.03" y="66.44" width="1.45" height="1.45"/><rect x="550.93" y="66.44" width="1.45" height="1.45"/><rect x="92.88" y="55.46" width="1.45" height="1.45"/><rect x="103.79" y="55.46" width="1.45" height="1.45"/><rect x="114.69" y="55.46" width="1.45" height="1.45"/><rect x="125.60" y="55.46" width="1.45" height="1.45"/><rect x="136.51" y="55.46" width="1.45" height="1.45"/><rect x="147.41" y="55.46" width="1.45" height="1.45"/><rect x="158.32" y="55.46" width="1.45" height="1.45"/><rect x="169.22" y="55.46" width="1.45" height="1.45"/><rect x="180.13" y="55.46" width="1.45" height="1.45"/><rect x="191.03" y="55.46" width="1.45" height="1.45"/><rect x="201.94" y="55.46" width="1.45" height="1.45"/><rect x="212.85" y="55.46" width="1.45" height="1.45"/><rect x="223.75" y="55.46" width="1.45" height="1.45"/><rect x="234.66" y="55.46" width="1.45" height="1.45"/><rect x="245.57" y="55.46" width="1.45" height="1.45"/><rect x="256.47" y="55.46" width="1.45" height="1.45"/><rect x="267.38" y="55.46" width="1.45" height="1.45"/><rect x="278.28" y="55.46" width="1.45" height="1.45"/><rect x="289.19" y="55.46" width="1.45" height="1.45"/><rect x="300.09" y="55.46" width="1.45" height="1.45"/><rect x="311.00" y="55.46" width="1.45" height="1.45"/><rect x="321.91" y="55.46" width="1.45" height="1.45"/><rect x="332.81" y="55.46" width="1.45" height="1.45"/><rect x="343.72" y="55.46" width="1.45" height="1.45"/><rect x="354.62" y="55.46" width="1.45" height="1.45"/><rect x="365.53" y="55.46" width="1.45" height="1.45"/><rect x="376.44" y="55.46" width="1.45" height="1.45"/><rect x="387.34" y="55.46" width="1.45" height="1.45"/><rect x="398.25" y="55.46" width="1.45" height="1.45"/><rect x="409.15" y="55.46" width="1.45" height="1.45"/><rect x="420.06" y="55.46" width="1.45" height="1.45"/><rect x="430.97" y="55.46" width="1.45" height="1.45"/><rect x="441.87" y="55.46" width="1.45" height="1.45"/><rect x="452.78" y="55.46" width="1.45" height="1.45"/><rect x="463.69" y="55.46" width="1.45" height="1.45"/><rect x="474.59" y="55.46" width="1.45" height="1.45"/><rect x="485.50" y="55.46" width="1.45" height="1.45"/><rect x="496.40" y="55.46" width="1.45" height="1.45"/><rect x="507.31" y="55.46" width="1.45" height="1.45"/><rect x="518.22" y="55.46" width="1.45" height="1.45"/><rect x="529.12" y="55.46" width="1.45" height="1.45"/><rect x="540.03" y="55.46" width="1.45" height="1.45"/><rect x="550.93" y="55.46" width="1.45" height="1.45"/><rect x="92.88" y="45.96" width="1.45" height="1.45"/><rect x="103.79" y="45.96" width="1.45" height="1.45"/><rect x="114.69" y="45.96" width="1.45" height="1.45"/><rect x="125.60" y="45.96" width="1.45" height="1.45"/><rect x="136.51" y="45.96" width="1.45" height="1.45"/><rect x="147.41" y="45.96" width="1.45" height="1.45"/><rect x="158.32" y="45.96" width="1.45" height="1.45"/><rect x="169.22" y="45.96" width="1.45" height="1.45"/><rect x="180.13" y="45.96" width="1.45" height="1.45"/><rect x="191.03" y="45.96" width="1.45" height="1.45"/><rect x="201.94" y="45.96" width="1.45" height="1.45"/><rect x="212.85" y="45.96" width="1.45" height="1.45"/><rect x="223.75" y="45.96" width="1.45" height="1.45"/><rect x="234.66" y="45.96" width="1.45" height="1.45"/><rect x="245.57" y="45.96" width="1.45" height="1.45"/><rect x="256.47" y="45.96" width="1.45" height="1.45"/><rect x="267.38" y="45.96" width="1.45" height="1.45"/><rect x="278.28" y="45.96" width="1.45" height="1.45"/><rect x="289.19" y="45.96" width="1.45" height="1.45"/><rect x="300.09" y="45.96" width="1.45" height="1.45"/><rect x="311.00" y="45.96" width="1.45" height="1.45"/><rect x="321.91" y="45.96" width="1.45" height="1.45"/><rect x="332.81" y="45.96" width="1.45" height="1.45"/><rect x="343.72" y="45.96" width="1.45" height="1.45"/><rect x="354.62" y="45.96" width="1.45" height="1.45"/><rect x="365.53" y="45.96" width="1.45" height="1.45"/><rect x="376.44" y="45.96" width="1.45" height="1.45"/><rect x="387.34" y="45.96" width="1.45" height="1.45"/><rect x="398.25" y="45.96" width="1.45" height="1.45"/><rect x="409.15" y="45.96" width="1.45" height="1.45"/><rect x="420.06" y="45.96" width="1.45" height="1.45"/><rect x="430.97" y="45.96" width="1.45" height="1.45"/><rect x="441.87" y="45.96" width="1.45" height="1.45"/><rect x="452.78" y="45.96" width="1.45" height="1.45"/><rect x="463.69" y="45.96" width="1.45" height="1.45"/><rect x="474.59" y="45.96" width="1.45" height="1.45"/><rect x="485.50" y="45.96" width="1.45" height="1.45"/><rect x="496.40" y="45.96" width="1.45" height="1.45"/><rect x="507.31" y="45.96" width="1.45" height="1.45"/><rect x="518.22" y="45.96" width="1.45" height="1.45"/><rect x="529.12" y="45.96" width="1.45" height="1.45"/><rect x="540.03" y="45.96" width="1.45" height="1.45"/><rect x="550.93" y="45.96" width="1.45" height="1.45"/><rect x="92.88" y="37.57" width="1.45" height="1.45"/><rect x="103.79" y="37.57" width="1.45" height="1.45"/><rect x="114.69" y="37.57" width="1.45" height="1.45"/><rect x="125.60" y="37.57" width="1.45" height="1.45"/><rect x="136.51" y="37.57" width="1.45" height="1.45"/><rect x="147.41" y="37.57" width="1.45" height="1.45"/><rect x="158.32" y="37.57" width="1.45" height="1.45"/><rect x="169.22" y="37.57" width="1.45" height="1.45"/><rect x="180.13" y="37.57" width="1.45" height="1.45"/><rect x="191.03" y="37.57" width="1.45" height="1.45"/><rect x="201.94" y="37.57" width="1.45" height="1.45"/><rect x="212.85" y="37.57" width="1.45" height="1.45"/><rect x="223.75" y="37.57" width="1.45" height="1.45"/><rect x="234.66" y="37.57" width="1.45" height="1.45"/><rect x="245.57" y="37.57" width="1.45" height="1.45"/><rect x="256.47" y="37.57" width="1.45" height="1.45"/><rect x="267.38" y="37.57" width="1.45" height="1.45"/><rect x="278.28" y="37.57" width="1.45" height="1.45"/><rect x="289.19" y="37.57" width="1.45" height="1.45"/><rect x="300.09" y="37.57" width="1.45" height="1.45"/><rect x="311.00" y="37.57" width="1.45" height="1.45"/><rect x="321.91" y="37.57" width="1.45" height="1.45"/><rect x="332.81" y="37.57" width="1.45" height="1.45"/><rect x="343.72" y="37.57" width="1.45" height="1.45"/><rect x="354.62" y="37.57" width="1.45" height="1.45"/><rect x="365.53" y="37.57" width="1.45" height="1.45"/><rect x="376.44" y="37.57" width="1.45" height="1.45"/><rect x="387.34" y="37.57" width="1.45" height="1.45"/><rect x="398.25" y="37.57" width="1.45" height="1.45"/><rect x="409.15" y="37.57" width="1.45" height="1.45"/><rect x="420.06" y="37.57" width="1.45" height="1.45"/><rect x="430.97" y="37.57" width="1.45" height="1.45"/><rect x="441.87" y="37.57" width="1.45" height="1.45"/><rect x="452.78" y="37.57" width="1.45" height="1.45"/><rect x="463.69" y="37.57" width="1.45" height="1.45"/><rect x="474.59" y="37.57" width="1.45" height="1.45"/><rect x="485.50" y="37.57" width="1.45" height="1.45"/><rect x="496.40" y="37.57" width="1.45" height="1.45"/><rect x="507.31" y="37.57" width="1.45" height="1.45"/><rect x="518.22" y="37.57" width="1.45" height="1.45"/><rect x="529.12" y="37.57" width="1.45" height="1.45"/><rect x="540.03" y="37.57" width="1.45" height="1.45"/><rect x="550.93" y="37.57" width="1.45" height="1.45"/><rect x="128.42" y="345.67" width="1.45" height="1.45"/><rect x="128.42" y="334.76" width="1.45" height="1.45"/><rect x="128.42" y="323.86" width="1.45" height="1.45"/><rect x="128.42" y="312.95" width="1.45" height="1.45"/><rect x="128.42" y="302.05" width="1.45" height="1.45"/><rect x="128.42" y="291.14" width="1.45" height="1.45"/><rect x="128.42" y="280.24" width="1.45" height="1.45"/><rect x="128.42" y="269.33" width="1.45" height="1.45"/><rect x="128.42" y="258.43" width="1.45" height="1.45"/><rect x="128.42" y="247.53" width="1.45" height="1.45"/><rect x="128.42" y="236.62" width="1.45" height="1.45"/><rect x="128.42" y="225.72" width="1.45" height="1.45"/><rect x="128.42" y="214.81" width="1.45" height="1.45"/><rect x="128.42" y="203.91" width="1.45" height="1.45"/><rect x="128.42" y="193.00" width="1.45" height="1.45"/><rect x="128.42" y="182.10" width="1.45" height="1.45"/><rect x="128.42" y="171.19" width="1.45" height="1.45"/><rect x="128.42" y="160.29" width="1.45" height="1.45"/><rect x="128.42" y="149.38" width="1.45" height="1.45"/><rect x="128.42" y="138.48" width="1.45" height="1.45"/><rect x="128.42" y="127.57" width="1.45" height="1.45"/><rect x="128.42" y="116.67" width="1.45" height="1.45"/><rect x="128.42" y="105.76" width="1.45" height="1.45"/><rect x="128.42" y="94.86" width="1.45" height="1.45"/><rect x="128.42" y="83.95" width="1.45" height="1.45"/><rect x="128.42" y="73.05" width="1.45" height="1.45"/><rect x="128.42" y="62.14" width="1.45" height="1.45"/><rect x="128.42" y="51.24" width="1.45" height="1.45"/><rect x="128.42" y="40.33" width="1.45" height="1.45"/><rect x="175.81" y="345.67" width="1.45" height="1.45"/><rect x="175.81" y="334.76" width="1.45" height="1.45"/><rect x="175.81" y="323.86" width="1.45" height="1.45"/><rect x="175.81" y="312.95" width="1.45" height="1.45"/><rect x="175.81" y="302.05" width="1.45" height="1.45"/><rect x="175.81" y="291.14" width="1.45" height="1.45"/><rect x="175.81" y="280.24" width="1.45" height="1.45"/><rect x="175.81" y="269.33" width="1.45" height="1.45"/><rect x="175.81" y="258.43" width="1.45" height="1.45"/><rect x="175.81" y="247.53" width="1.45" height="1.45"/><rect x="175.81" y="236.62" width="1.45" height="1.45"/><rect x="175.81" y="225.72" width="1.45" height="1.45"/><rect x="175.81" y="214.81" width="1.45" height="1.45"/><rect x="175.81" y="203.91" width="1.45" height="1.45"/><rect x="175.81" y="193.00" width="1.45" height="1.45"/><rect x="175.81" y="182.10" width="1.45" height="1.45"/><rect x="175.81" y="171.19" width="1.45" height="1.45"/><rect x="175.81" y="160.29" width="1.45" height="1.45"/><rect x="175.81" y="149.38" width="1.45" height="1.45"/><rect x="175.81" y="138.48" width="1.45" height="1.45"/><rect x="175.81" y="127.57" width="1.45" height="1.45"/><rect x="175.81" y="116.67" width="1.45" height="1.45"/><rect x="175.81" y="105.76" width="1.45" height="1.45"/><rect x="175.81" y="94.86" width="1.45" height="1.45"/><rect x="175.81" y="83.95" width="1.45" height="1.45"/><rect x="175.81" y="73.05" width="1.45" height="1.45"/><rect x="175.81" y="62.14" width="1.45" height="1.45"/><rect x="175.81" y="51.24" width="1.45" height="1.45"/><rect x="175.81" y="40.33" width="1.45" height="1.45"/><rect x="223.21" y="345.67" width="1.45" height="1.45"/><rect x="223.21" y="334.76" width="1.45" height="1.45"/><rect x="223.21" y="323.86" width="1.45" height="1.45"/><rect x="223.21" y="312.95" width="1.45" height="1.45"/><rect x="223.21" y="302.05" width="1.45" height="1.45"/><rect x="223.21" y="291.14" width="1.45" height="1.45"/><rect x="223.21" y="280.24" width="1.45" height="1.45"/><rect x="223.21" y="269.33" width="1.45" height="1.45"/><rect x="223.21" y="258.43" width="1.45" height="1.45"/><rect x="223.21" y="247.53" width="1.45" height="1.45"/><rect x="223.21" y="236.62" width="1.45" height="1.45"/><rect x="223.21" y="225.72" width="1.45" height="1.45"/><rect x="223.21" y="214.81" width="1.45" height="1.45"/><rect x="223.21" y="203.91" width="1.45" height="1.45"/><rect x="223.21" y="193.00" width="1.45" height="1.45"/><rect x="223.21" y="182.10" width="1.45" height="1.45"/><rect x="223.21" y="171.19" width="1.45" height="1.45"/><rect x="223.21" y="160.29" width="1.45" height="1.45"/><rect x="223.21" y="149.38" width="1.45" height="1.45"/><rect x="223.21" y="138.48" width="1.45" height="1.45"/><rect x="223.21" y="127.57" width="1.45" height="1.45"/><rect x="223.21" y="116.67" width="1.45" height="1.45"/><rect x="223.21" y="105.76" width="1.45" height="1.45"/><rect x="223.21" y="94.86" width="1.45" height="1.45"/><rect x="223.21" y="83.95" width="1.45" height="1.45"/><rect x="223.21" y="73.05" width="1.45" height="1.45"/><rect x="223.21" y="62.14" width="1.45" height="1.45"/><rect x="223.21" y="51.24" width="1.45" height="1.45"/><rect x="223.21" y="40.33" width="1.45" height="1.45"/><rect x="270.60" y="345.67" width="1.45" height="1.45"/><rect x="270.60" y="334.76" width="1.45" height="1.45"/><rect x="270.60" y="323.86" width="1.45" height="1.45"/><rect x="270.60" y="312.95" width="1.45" height="1.45"/><rect x="270.60" y="302.05" width="1.45" height="1.45"/><rect x="270.60" y="291.14" width="1.45" height="1.45"/><rect x="270.60" y="280.24" width="1.45" height="1.45"/><rect x="270.60" y="269.33" width="1.45" height="1.45"/><rect x="270.60" y="258.43" width="1.45" height="1.45"/><rect x="270.60" y="247.53" width="1.45" height="1.45"/><rect x="270.60" y="236.62" width="1.45" height="1.45"/><rect x="270.60" y="225.72" width="1.45" height="1.45"/><rect x="270.60" y="214.81" width="1.45" height="1.45"/><rect x="270.60" y="203.91" width="1.45" height="1.45"/><rect x="270.60" y="193.00" width="1.45" height="1.45"/><rect x="270.60" y="182.10" width="1.45" height="1.45"/><rect x="270.60" y="171.19" width="1.45" height="1.45"/><rect x="270.60" y="160.29" width="1.45" height="1.45"/><rect x="270.60" y="149.38" width="1.45" height="1.45"/><rect x="270.60" y="138.48" width="1.45" height="1.45"/><rect x="270.60" y="127.57" width="1.45" height="1.45"/><rect x="270.60" y="116.67" width="1.45" height="1.45"/><rect x="270.60" y="105.76" width="1.45" height="1.45"/><rect x="270.60" y="94.86" width="1.45" height="1.45"/><rect x="270.60" y="83.95" width="1.45" height="1.45"/><rect x="270.60" y="73.05" width="1.45" height="1.45"/><rect x="270.60" y="62.14" width="1.45" height="1.45"/><rect x="270.60" y="51.24" width="1.45" height="1.45"/><rect x="270.60" y="40.33" width="1.45" height="1.45"/><rect x="318.00" y="345.67" width="1.45" height="1.45"/><rect x="318.00" y="334.76" width="1.45" height="1.45"/><rect x="318.00" y="323.86" width="1.45" height="1.45"/><rect x="318.00" y="312.95" width="1.45" height="1.45"/><rect x="318.00" y="302.05" width="1.45" height="1.45"/><rect x="318.00" y="291.14" width="1.45" height="1.45"/><rect x="318.00" y="280.24" width="1.45" height="1.45"/><rect x="318.00" y="269.33" width="1.45" height="1.45"/><rect x="318.00" y="258.43" width="1.45" height="1.45"/><rect x="318.00" y="247.53" width="1.45" height="1.45"/><rect x="318.00" y="236.62" width="1.45" height="1.45"/><rect x="318.00" y="225.72" width="1.45" height="1.45"/><rect x="318.00" y="214.81" width="1.45" height="1.45"/><rect x="318.00" y="203.91" width="1.45" height="1.45"/><rect x="318.00" y="193.00" width="1.45" height="1.45"/><rect x="318.00" y="182.10" width="1.45" height="1.45"/><rect x="318.00" y="171.19" width="1.45" height="1.45"/><rect x="318.00" y="160.29" width="1.45" height="1.45"/><rect x="318.00" y="149.38" width="1.45" height="1.45"/><rect x="318.00" y="138.48" width="1.45" height="1.45"/><rect x="318.00" y="127.57" width="1.45" height="1.45"/><rect x="318.00" y="116.67" width="1.45" height="1.45"/><rect x="318.00" y="105.76" width="1.45" height="1.45"/><rect x="318.00" y="94.86" width="1.45" height="1.45"/><rect x="318.00" y="83.95" width="1.45" height="1.45"/><rect x="318.00" y="73.05" width="1.45" height="1.45"/><rect x="318.00" y="62.14" width="1.45" height="1.45"/><rect x="318.00" y="51.24" width="1.45" height="1.45"/><rect x="318.00" y="40.33" width="1.45" height="1.45"/><rect x="365.39" y="345.67" width="1.45" height="1.45"/><rect x="365.39" y="334.76" width="1.45" height="1.45"/><rect x="365.39" y="323.86" width="1.45" height="1.45"/><rect x="365.39" y="312.95" width="1.45" height="1.45"/><rect x="365.39" y="302.05" width="1.45" height="1.45"/><rect x="365.39" y="291.14" width="1.45" height="1.45"/><rect x="365.39" y="280.24" width="1.45" height="1.45"/><rect x="365.39" y="269.33" width="1.45" height="1.45"/><rect x="365.39" y="258.43" width="1.45" height="1.45"/><rect x="365.39" y="247.53" width="1.45" height="1.45"/><rect x="365.39" y="236.62" width="1.45" height="1.45"/><rect x="365.39" y="225.72" width="1.45" height="1.45"/><rect x="365.39" y="214.81" width="1.45" height="1.45"/><rect x="365.39" y="203.91" width="1.45" height="1.45"/><rect x="365.39" y="193.00" width="1.45" height="1.45"/><rect x="365.39" y="182.10" width="1.45" height="1.45"/><rect x="365.39" y="171.19" width="1.45" height="1.45"/><rect x="365.39" y="160.29" width="1.45" height="1.45"/><rect x="365.39" y="149.38" width="1.45" height="1.45"/><rect x="365.39" y="138.48" width="1.45" height="1.45"/><rect x="365.39" y="127.57" width="1.45" height="1.45"/><rect x="365.39" y="116.67" width="1.45" height="1.45"/><rect x="365.39" y="105.76" width="1.45" height="1.45"/><rect x="365.39" y="94.86" width="1.45" height="1.45"/><rect x="365.39" y="83.95" width="1.45" height="1.45"/><rect x="365.39" y="73.05" width="1.45" height="1.45"/><rect x="365.39" y="62.14" width="1.45" height="1.45"/><rect x="365.39" y="51.24" width="1.45" height="1.45"/><rect x="365.39" y="40.33" width="1.45" height="1.45"/><rect x="412.78" y="345.67" width="1.45" height="1.45"/><rect x="412.78" y="334.76" width="1.45" height="1.45"/><rect x="412.78" y="323.86" width="1.45" height="1.45"/><rect x="412.78" y="312.95" width="1.45" height="1.45"/><rect x="412.78" y="302.05" width="1.45" height="1.45"/><rect x="412.78" y="291.14" width="1.45" height="1.45"/><rect x="412.78" y="280.24" width="1.45" height="1.45"/><rect x="412.78" y="269.33" width="1.45" height="1.45"/><rect x="412.78" y="258.43" width="1.45" height="1.45"/><rect x="412.78" y="247.53" width="1.45" height="1.45"/><rect x="412.78" y="236.62" width="1.45" height="1.45"/><rect x="412.78" y="225.72" width="1.45" height="1.45"/><rect x="412.78" y="214.81" width="1.45" height="1.45"/><rect x="412.78" y="203.91" width="1.45" height="1.45"/><rect x="412.78" y="193.00" width="1.45" height="1.45"/><rect x="412.78" y="182.10" width="1.45" height="1.45"/><rect x="412.78" y="171.19" width="1.45" height="1.45"/><rect x="412.78" y="160.29" width="1.45" height="1.45"/><rect x="412.78" y="149.38" width="1.45" height="1.45"/><rect x="412.78" y="138.48" width="1.45" height="1.45"/><rect x="412.78" y="127.57" width="1.45" height="1.45"/><rect x="412.78" y="116.67" width="1.45" height="1.45"/><rect x="412.78" y="105.76" width="1.45" height="1.45"/><rect x="412.78" y="94.86" width="1.45" height="1.45"/><rect x="412.78" y="83.95" width="1.45" height="1.45"/><rect x="412.78" y="73.05" width="1.45" height="1.45"/><rect x="412.78" y="62.14" width="1.45" height="1.45"/><rect x="412.78" y="51.24" width="1.45" height="1.45"/><rect x="412.78" y="40.33" width="1.45" height="1.45"/><rect x="460.18" y="345.67" width="1.45" height="1.45"/><rect x="460.18" y="334.76" width="1.45" height="1.45"/><rect x="460.18" y="323.86" width="1.45" height="1.45"/><rect x="460.18" y="312.95" width="1.45" height="1.45"/><rect x="460.18" y="302.05" width="1.45" height="1.45"/><rect x="460.18" y="291.14" width="1.45" height="1.45"/><rect x="460.18" y="280.24" width="1.45" height="1.45"/><rect x="460.18" y="269.33" width="1.45" height="1.45"/><rect x="460.18" y="258.43" width="1.45" height="1.45"/><rect x="460.18" y="247.53" width="1.45" height="1.45"/><rect x="460.18" y="236.62" width="1.45" height="1.45"/><rect x="460.18" y="225.72" width="1.45" height="1.45"/><rect x="460.18" y="214.81" width="1.45" height="1.45"/><rect x="460.18" y="203.91" width="1.45" height="1.45"/><rect x="460.18" y="193.00" width="1.45" height="1.45"/><rect x="460.18" y="182.10" width="1.45" height="1.45"/><rect x="460.18" y="171.19" width="1.45" height="1.45"/><rect x="460.18" y="160.29" width="1.45" height="1.45"/><rect x="460.18" y="149.38" width="1.45" height="1.45"/><rect x="460.18" y="138.48" width="1.45" height="1.45"/><rect x="460.18" y="127.57" width="1.45" height="1.45"/><rect x="460.18" y="116.67" width="1.45" height="1.45"/><rect x="460.18" y="105.76" width="1.45" height="1.45"/><rect x="460.18" y="94.86" width="1.45" height="1.45"/><rect x="460.18" y="83.95" width="1.45" height="1.45"/><rect x="460.18" y="73.05" width="1.45" height="1.45"/><rect x="460.18" y="62.14" width="1.45" height="1.45"/><rect x="460.18" y="51.24" width="1.45" height="1.45"/><rect x="460.18" y="40.33" width="1.45" height="1.45"/><rect x="507.57" y="345.67" width="1.45" height="1.45"/><rect x="507.57" y="334.76" width="1.45" height="1.45"/><rect x="507.57" y="323.86" width="1.45" height="1.45"/><rect x="507.57" y="312.95" width="1.45" height="1.45"/><rect x="507.57" y="302.05" width="1.45" height="1.45"/><rect x="507.57" y="291.14" width="1.45" height="1.45"/><rect x="507.57" y="280.24" width="1.45" height="1.45"/><rect x="507.57" y="269.33" width="1.45" height="1.45"/><rect x="507.57" y="258.43" width="1.45" height="1.45"/><rect x="507.57" y="247.53" width="1.45" height="1.45"/><rect x="507.57" y="236.62" width="1.45" height="1.45"/><rect x="507.57" y="225.72" width="1.45" height="1.45"/><rect x="507.57" y="214.81" width="1.45" height="1.45"/><rect x="507.57" y="203.91" width="1.45" height="1.45"/><rect x="507.57" y="193.00" width="1.45" height="1.45"/><rect x="507.57" y="182.10" width="1.45" height="1.45"/><rect x="507.57" y="171.19" width="1.45" height="1.45"/><rect x="507.57" y="160.29" width="1.45" height="1.45"/><rect x="507.57" y="149.38" width="1.45" height="1.45"/><rect x="507.57" y="138.48" width="1.45" height="1.45"/><rect x="507.57" y="127.57" width="1.45" height="1.45"/><rect x="507.57" y="116.67" width="1.45" height="1.45"/><rect x="507.57" y="105.76" width="1.45" height="1.45"/><rect x="507.57" y="94.86" width="1.45" height="1.45"/><rect x="507.57" y="83.95" width="1.45" height="1.45"/><rect x="507.57" y="73.05" width="1.45" height="1.45"/><rect x="507.57" y="62.14" width="1.45" height="1.45"/><rect x="507.57" y="51.24" width="1.45" height="1.45"/><rect x="507.57" y="40.33" width="1.45" height="1.45"/></g>
<path d="M129.14 357.65V352.75M129.14 31.70V36.60M176.54 357.65V352.75M176.54 31.70V36.60M223.93 357.65V352.75M223.93 31.70V36.60M271.33 357.65V352.75M271.33 31.70V36.60M318.72 357.65V352.75M318.72 31.70V36.60M366.11 357.65V352.75M366.11 31.70V36.60M413.51 357.65V352.75M413.51 31.70V36.60M460.90 357.65V352.75M460.90 31.70V36.60M508.30 357.65V352.75M508.30 31.70V36.60M82.15 308.63H84.35M556.60 308.63H554.40M82.15 279.93H84.35M556.60 279.93H554.40M82.15 259.56H84.35M556.60 259.56H554.40M82.15 243.77H84.35M556.60 243.77H554.40M82.15 230.86H84.35M556.60 230.86H554.40M82.15 219.95H84.35M556.60 219.95H554.40M82.15 210.50H84.35M556.60 210.50H554.40M82.15 202.16H84.35M556.60 202.16H554.40M82.15 194.70H86.75M556.60 194.70H552.00M82.15 145.36H84.35M556.60 145.36H554.40M82.15 116.50H84.35M556.60 116.50H554.40M82.15 96.02H84.35M556.60 96.02H554.40M82.15 80.14H84.35M556.60 80.14H554.40M82.15 67.16H84.35M556.60 67.16H554.40M82.15 56.19H84.35M556.60 56.19H554.40M82.15 46.68H84.35M556.60 46.68H554.40M82.15 38.30H84.35M556.60 38.30H554.40" stroke="#111" stroke-width="1.35" fill="none"/>
<rect x="476.2" y="52.3" width="62.5" height="19.5" fill="#fff"/><rect x="437.8" y="95.7" width="55.1" height="19.7" fill="#fff"/><rect x="336.8" y="134.3" width="55.4" height="19.7" fill="#fff"/><rect x="288.2" y="164.0" width="54.0" height="19.4" fill="#fff"/><rect x="232.5" y="215.0" width="54.7" height="19.3" fill="#fff"/><rect x="181.8" y="250.7" width="46.7" height="19.3" fill="#fff"/>
<defs><path id="m_n10" d="M0.00 -4.55L1.15 -1.13L4.76 -1.10L1.85 1.05L2.94 4.50L0.00 2.40L-2.94 4.50L-1.85 1.05L-4.76 -1.10L-1.15 -1.13Z"/><path id="m_n20" d="M-4.10 -3.50H4.10V3.50H-4.10Z"/><path id="m_n30" d="M-5.00 0L4.00 -4.15L4.00 4.15Z"/><path id="m_n50" d="M0.00 -3.85L1.11 -1.92L3.33 -1.92L2.22 0.00L3.33 1.92L1.11 1.92L0.00 3.85L-1.11 1.92L-3.33 1.92L-2.22 0.00L-3.33 -1.93L-1.11 -1.92Z"/><path id="m_n100" d="M-5.40 -3.40L5.40 -3.40L0 4.00Z"/><path id="lm_n50" d="M0.00 -3.70L1.07 -1.85L3.20 -1.85L2.13 0.00L3.20 1.85L1.07 1.85L0.00 3.70L-1.07 1.85L-3.20 1.85L-2.13 0.00L-3.20 -1.85L-1.07 -1.85Z"/><path id="lm_n10" d="M0.00 -4.75L1.19 -1.19L4.95 -1.16L1.93 1.08L3.06 4.66L0.00 2.48L-3.06 4.66L-1.93 1.08L-4.95 -1.16L-1.19 -1.19Z"/></defs><g id="curves"><path d="M86.49 262.00L91.23 209.50L95.97 180.50L100.71 160.40L105.45 145.00L110.19 132.30L114.93 123.00L119.67 115.20L124.40 108.60L129.14 103.00L133.88 98.20L138.62 93.96L143.36 90.09L148.10 86.48L152.84 83.50L157.58 81.14L162.32 79.13L167.06 77.36L171.80 75.77L176.54 74.30L181.28 72.92L186.02 71.64L190.76 70.45L195.50 69.33L200.24 68.28L204.97 67.31L209.71 66.40L214.45 65.54L219.19 64.75L223.93 64.00L228.67 63.30L233.41 62.64L238.15 62.02L242.89 61.43L247.63 60.87L252.37 60.34L257.11 59.84L261.85 59.37L266.59 58.92L271.33 58.50L276.07 58.09L280.80 57.70L285.54 57.32L290.28 56.95L295.02 56.60L299.76 56.25L304.50 55.92L309.24 55.60L313.98 55.28L318.72 54.98L323.46 54.69L328.20 54.40L332.94 54.13L337.68 53.86L342.42 53.60L347.16 53.35L351.90 53.11L356.64 52.88L361.37 52.65L366.11 52.43L370.85 52.22L375.59 52.02L380.33 51.82L385.07 51.63L389.81 51.44L394.55 51.26L399.29 51.09L404.03 50.92L408.77 50.76L413.51 50.60L418.25 50.45L422.99 50.30L427.73 50.16L432.47 50.01L437.20 49.88L441.94 49.74L446.68 49.61L451.42 49.49L456.16 49.36L460.90 49.24L465.64 49.13L470.38 49.01L475.12 48.90L479.86 48.79L484.60 48.69L489.34 48.59L494.08 48.49L498.82 48.39L503.56 48.29L508.30 48.20L513.04 48.11L517.77 48.02L522.51 47.94L527.25 47.85L531.99 47.77L536.73 47.69L541.47 47.62L546.21 47.54L550.95 47.47L555.69 47.40" stroke="#d414d4" stroke-width="1.1" fill="none" stroke-dasharray="4 2.5"/><g><use href="#m_n100" x="86.49" y="262.00"/><use href="#m_n100" x="91.23" y="209.50"/><use href="#m_n100" x="95.97" y="180.50"/><use href="#m_n100" x="100.71" y="160.40"/><use href="#m_n100" x="105.45" y="145.00"/><use href="#m_n100" x="110.19" y="132.30"/><use href="#m_n100" x="114.93" y="123.00"/><use href="#m_n100" x="119.67" y="115.20"/><use href="#m_n100" x="124.40" y="108.60"/><use href="#m_n100" x="129.14" y="103.00"/><use href="#m_n100" x="133.88" y="98.20"/><use href="#m_n100" x="138.62" y="93.96"/><use href="#m_n100" x="143.36" y="90.09"/><use href="#m_n100" x="148.10" y="86.48"/><use href="#m_n100" x="152.84" y="83.50"/><use href="#m_n100" x="157.58" y="81.14"/><use href="#m_n100" x="162.32" y="79.13"/><use href="#m_n100" x="167.06" y="77.36"/><use href="#m_n100" x="171.80" y="75.77"/><use href="#m_n100" x="176.54" y="74.30"/><use href="#m_n100" x="181.28" y="72.92"/><use href="#m_n100" x="186.02" y="71.64"/><use href="#m_n100" x="190.76" y="70.45"/><use href="#m_n100" x="195.50" y="69.33"/><use href="#m_n100" x="200.24" y="68.28"/><use href="#m_n100" x="204.97" y="67.31"/><use href="#m_n100" x="209.71" y="66.40"/><use href="#m_n100" x="214.45" y="65.54"/><use href="#m_n100" x="219.19" y="64.75"/><use href="#m_n100" x="223.93" y="64.00"/><use href="#m_n100" x="228.67" y="63.30"/><use href="#m_n100" x="233.41" y="62.64"/><use href="#m_n100" x="238.15" y="62.02"/><use href="#m_n100" x="242.89" y="61.43"/><use href="#m_n100" x="247.63" y="60.87"/><use href="#m_n100" x="252.37" y="60.34"/><use href="#m_n100" x="257.11" y="59.84"/><use href="#m_n100" x="261.85" y="59.37"/><use href="#m_n100" x="266.59" y="58.92"/><use href="#m_n100" x="271.33" y="58.50"/><use href="#m_n100" x="276.07" y="58.09"/><use href="#m_n100" x="280.80" y="57.70"/><use href="#m_n100" x="285.54" y="57.32"/><use href="#m_n100" x="290.28" y="56.95"/><use href="#m_n100" x="295.02" y="56.60"/><use href="#m_n100" x="299.76" y="56.25"/><use href="#m_n100" x="304.50" y="55.92"/><use href="#m_n100" x="309.24" y="55.60"/><use href="#m_n100" x="313.98" y="55.28"/><use href="#m_n100" x="318.72" y="54.98"/><use href="#m_n100" x="323.46" y="54.69"/><use href="#m_n100" x="328.20" y="54.40"/><use href="#m_n100" x="332.94" y="54.13"/><use href="#m_n100" x="337.68" y="53.86"/><use href="#m_n100" x="342.42" y="53.60"/><use href="#m_n100" x="347.16" y="53.35"/><use href="#m_n100" x="351.90" y="53.11"/><use href="#m_n100" x="356.64" y="52.88"/><use href="#m_n100" x="361.37" y="52.65"/><use href="#m_n100" x="366.11" y="52.43"/><use href="#m_n100" x="370.85" y="52.22"/><use href="#m_n100" x="375.59" y="52.02"/><use href="#m_n100" x="380.33" y="51.82"/><use href="#m_n100" x="385.07" y="51.63"/><use href="#m_n100" x="389.81" y="51.44"/><use href="#m_n100" x="394.55" y="51.26"/><use href="#m_n100" x="399.29" y="51.09"/><use href="#m_n100" x="404.03" y="50.92"/><use href="#m_n100" x="408.77" y="50.76"/><use href="#m_n100" x="413.51" y="50.60"/><use href="#m_n100" x="418.25" y="50.45"/><use href="#m_n100" x="422.99" y="50.30"/><use href="#m_n100" x="427.73" y="50.16"/><use href="#m_n100" x="432.47" y="50.01"/><use href="#m_n100" x="437.20" y="49.88"/><use href="#m_n100" x="441.94" y="49.74"/><use href="#m_n100" x="446.68" y="49.61"/><use href="#m_n100" x="451.42" y="49.49"/><use href="#m_n100" x="456.16" y="49.36"/><use href="#m_n100" x="460.90" y="49.24"/><use href="#m_n100" x="465.64" y="49.13"/><use href="#m_n100" x="470.38" y="49.01"/><use href="#m_n100" x="475.12" y="48.90"/><use href="#m_n100" x="479.86" y="48.79"/><use href="#m_n100" x="484.60" y="48.69"/><use href="#m_n100" x="489.34" y="48.59"/><use href="#m_n100" x="494.08" y="48.49"/><use href="#m_n100" x="498.82" y="48.39"/><use href="#m_n100" x="503.56" y="48.29"/><use href="#m_n100" x="508.30" y="48.20"/><use href="#m_n100" x="513.04" y="48.11"/><use href="#m_n100" x="517.77" y="48.02"/><use href="#m_n100" x="522.51" y="47.94"/><use href="#m_n100" x="527.25" y="47.85"/><use href="#m_n100" x="531.99" y="47.77"/><use href="#m_n100" x="536.73" y="47.69"/><use href="#m_n100" x="541.47" y="47.62"/><use href="#m_n100" x="546.21" y="47.54"/><use href="#m_n100" x="550.95" y="47.47"/><use href="#m_n100" x="555.69" y="47.40"/></g><path d="M86.49 262.41L91.23 208.85L95.97 181.20L100.71 163.84L105.45 151.86L110.19 143.09L114.93 136.40L119.67 131.15L124.40 126.92L129.14 123.44L133.88 120.54L138.62 118.09L143.36 115.99L148.10 114.17L152.84 112.58L157.58 111.18L162.32 109.94L167.06 108.84L171.80 107.85L176.54 106.95L181.28 106.14L186.02 105.40L190.76 104.72L195.50 104.10L200.24 103.52L204.97 102.99L209.71 102.50L214.45 102.04L219.19 101.61L223.93 101.21L228.67 100.84L233.41 100.49L238.15 100.15L242.89 99.84L247.63 99.54L252.37 99.26L257.11 98.99L261.85 98.74L266.59 98.49L271.33 98.26L276.07 98.04L280.80 97.83L285.54 97.63L290.28 97.43L295.02 97.25L299.76 97.07L304.50 96.89L309.24 96.73L313.98 96.56L318.72 96.41L323.46 96.26L328.20 96.11L332.94 95.97L337.68 95.83L342.42 95.70L347.16 95.57L351.90 95.44L356.64 95.32L361.37 95.20L366.11 95.09L370.85 94.97L375.59 94.86L380.33 94.76L385.07 94.65L389.81 94.55L394.55 94.45L399.29 94.35L404.03 94.25L408.77 94.16L413.51 94.06L418.25 93.97L422.99 93.88L427.73 93.79L432.47 93.71L437.20 93.62L441.94 93.54L446.68 93.46L451.42 93.38L456.16 93.30L460.90 93.22L465.64 93.14L470.38 93.07L475.12 92.99L479.86 92.92L484.60 92.85L489.34 92.77L494.08 92.70L498.82 92.63L503.56 92.56L508.30 92.50L513.04 92.43L517.77 92.36L522.51 92.30L527.25 92.23L531.99 92.17L536.73 92.10L541.47 92.04L546.21 91.98L550.95 91.92L555.69 91.85" stroke="#1010d0" stroke-width="1.1" fill="none" stroke-dasharray="4 2.5"/><g><use href="#m_n50" x="86.49" y="262.41"/><use href="#m_n50" x="91.23" y="208.85"/><use href="#m_n50" x="95.97" y="181.20"/><use href="#m_n50" x="100.71" y="163.84"/><use href="#m_n50" x="105.45" y="151.86"/><use href="#m_n50" x="110.19" y="143.09"/><use href="#m_n50" x="114.93" y="136.40"/><use href="#m_n50" x="119.67" y="131.15"/><use href="#m_n50" x="124.40" y="126.92"/><use href="#m_n50" x="129.14" y="123.44"/><use href="#m_n50" x="133.88" y="120.54"/><use href="#m_n50" x="138.62" y="118.09"/><use href="#m_n50" x="143.36" y="115.99"/><use href="#m_n50" x="148.10" y="114.17"/><use href="#m_n50" x="152.84" y="112.58"/><use href="#m_n50" x="157.58" y="111.18"/><use href="#m_n50" x="162.32" y="109.94"/><use href="#m_n50" x="167.06" y="108.84"/><use href="#m_n50" x="171.80" y="107.85"/><use href="#m_n50" x="176.54" y="106.95"/><use href="#m_n50" x="181.28" y="106.14"/><use href="#m_n50" x="186.02" y="105.40"/><use href="#m_n50" x="190.76" y="104.72"/><use href="#m_n50" x="195.50" y="104.10"/><use href="#m_n50" x="200.24" y="103.52"/><use href="#m_n50" x="204.97" y="102.99"/><use href="#m_n50" x="209.71" y="102.50"/><use href="#m_n50" x="214.45" y="102.04"/><use href="#m_n50" x="219.19" y="101.61"/><use href="#m_n50" x="223.93" y="101.21"/><use href="#m_n50" x="228.67" y="100.84"/><use href="#m_n50" x="233.41" y="100.49"/><use href="#m_n50" x="238.15" y="100.15"/><use href="#m_n50" x="242.89" y="99.84"/><use href="#m_n50" x="247.63" y="99.54"/><use href="#m_n50" x="252.37" y="99.26"/><use href="#m_n50" x="257.11" y="98.99"/><use href="#m_n50" x="261.85" y="98.74"/><use href="#m_n50" x="266.59" y="98.49"/><use href="#m_n50" x="271.33" y="98.26"/><use href="#m_n50" x="276.07" y="98.04"/><use href="#m_n50" x="280.80" y="97.83"/><use href="#m_n50" x="285.54" y="97.63"/><use href="#m_n50" x="290.28" y="97.43"/><use href="#m_n50" x="295.02" y="97.25"/><use href="#m_n50" x="299.76" y="97.07"/><use href="#m_n50" x="304.50" y="96.89"/><use href="#m_n50" x="309.24" y="96.73"/><use href="#m_n50" x="313.98" y="96.56"/><use href="#m_n50" x="318.72" y="96.41"/><use href="#m_n50" x="323.46" y="96.26"/><use href="#m_n50" x="328.20" y="96.11"/><use href="#m_n50" x="332.94" y="95.97"/><use href="#m_n50" x="337.68" y="95.83"/><use href="#m_n50" x="342.42" y="95.70"/><use href="#m_n50" x="347.16" y="95.57"/><use href="#m_n50" x="351.90" y="95.44"/><use href="#m_n50" x="356.64" y="95.32"/><use href="#m_n50" x="361.37" y="95.20"/><use href="#m_n50" x="366.11" y="95.09"/><use href="#m_n50" x="370.85" y="94.97"/><use href="#m_n50" x="375.59" y="94.86"/><use href="#m_n50" x="380.33" y="94.76"/><use href="#m_n50" x="385.07" y="94.65"/><use href="#m_n50" x="389.81" y="94.55"/><use href="#m_n50" x="394.55" y="94.45"/><use href="#m_n50" x="399.29" y="94.35"/><use href="#m_n50" x="404.03" y="94.25"/><use href="#m_n50" x="408.77" y="94.16"/><use href="#m_n50" x="413.51" y="94.06"/><use href="#m_n50" x="418.25" y="93.97"/><use href="#m_n50" x="422.99" y="93.88"/><use href="#m_n50" x="427.73" y="93.79"/><use href="#m_n50" x="432.47" y="93.71"/><use href="#m_n50" x="437.20" y="93.62"/><use href="#m_n50" x="441.94" y="93.54"/><use href="#m_n50" x="446.68" y="93.46"/><use href="#m_n50" x="451.42" y="93.38"/><use href="#m_n50" x="456.16" y="93.30"/><use href="#m_n50" x="460.90" y="93.22"/><use href="#m_n50" x="465.64" y="93.14"/><use href="#m_n50" x="470.38" y="93.07"/><use href="#m_n50" x="475.12" y="92.99"/><use href="#m_n50" x="479.86" y="92.92"/><use href="#m_n50" x="484.60" y="92.85"/><use href="#m_n50" x="489.34" y="92.77"/><use href="#m_n50" x="494.08" y="92.70"/><use href="#m_n50" x="498.82" y="92.63"/><use href="#m_n50" x="503.56" y="92.56"/><use href="#m_n50" x="508.30" y="92.50"/><use href="#m_n50" x="513.04" y="92.43"/><use href="#m_n50" x="517.77" y="92.36"/><use href="#m_n50" x="522.51" y="92.30"/><use href="#m_n50" x="527.25" y="92.23"/><use href="#m_n50" x="531.99" y="92.17"/><use href="#m_n50" x="536.73" y="92.10"/><use href="#m_n50" x="541.47" y="92.04"/><use href="#m_n50" x="546.21" y="91.98"/><use href="#m_n50" x="550.95" y="91.92"/><use href="#m_n50" x="555.69" y="91.85"/></g><path d="M86.49 262.72L91.23 212.46L95.97 188.70L100.71 174.85L105.45 165.70L110.19 159.30L114.93 154.61L119.67 151.03L124.40 148.20L129.14 145.92L133.88 144.05L138.62 142.48L143.36 141.14L148.10 139.99L152.84 138.99L157.58 138.18L162.32 137.45L167.06 136.81L171.80 136.23L176.54 135.71L181.28 135.24L186.02 134.80L190.76 134.40L195.50 134.03L200.24 133.69L204.97 133.37L209.71 133.07L214.45 132.79L219.19 132.52L223.93 132.27L228.67 132.03L233.41 131.80L238.15 131.59L242.89 131.38L247.63 131.18L252.37 130.99L257.11 130.81L261.85 130.63L266.59 130.46L271.33 130.30L276.07 130.15L280.80 130.00L285.54 129.86L290.28 129.72L295.02 129.58L299.76 129.45L304.50 129.32L309.24 129.20L313.98 129.07L318.72 128.95L323.46 128.84L328.20 128.72L332.94 128.61L337.68 128.49L342.42 128.38L347.16 128.27L351.90 128.17L356.64 128.06L361.37 127.96L366.11 127.85L370.85 127.75L375.59 127.65L380.33 127.55L385.07 127.46L389.81 127.36L394.55 127.26L399.29 127.17L404.03 127.07L408.77 126.98L413.51 126.89L418.25 126.80L422.99 126.71L427.73 126.62L432.47 126.53L437.20 126.44L441.94 126.35L446.68 126.26L451.42 126.17L456.16 126.09L460.90 126.00L465.64 125.92L470.38 125.83L475.12 125.75L479.86 125.66L484.60 125.58L489.34 125.50L494.08 125.41L498.82 125.33L503.56 125.25L508.30 125.17L513.04 125.09L517.77 125.01L522.51 124.93L527.25 124.85L531.99 124.77L536.73 124.69L541.47 124.61L546.21 124.53L550.95 124.45L555.69 124.37" stroke="#12eaea" stroke-width="1.1" fill="none" stroke-dasharray="4 2.5"/><g><use href="#m_n30" x="86.49" y="262.72"/><use href="#m_n30" x="91.23" y="212.46"/><use href="#m_n30" x="95.97" y="188.70"/><use href="#m_n30" x="100.71" y="174.85"/><use href="#m_n30" x="105.45" y="165.70"/><use href="#m_n30" x="110.19" y="159.30"/><use href="#m_n30" x="114.93" y="154.61"/><use href="#m_n30" x="119.67" y="151.03"/><use href="#m_n30" x="124.40" y="148.20"/><use href="#m_n30" x="129.14" y="145.92"/><use href="#m_n30" x="133.88" y="144.05"/><use href="#m_n30" x="138.62" y="142.48"/><use href="#m_n30" x="143.36" y="141.14"/><use href="#m_n30" x="148.10" y="139.99"/><use href="#m_n30" x="152.84" y="138.99"/><use href="#m_n30" x="157.58" y="138.18"/><use href="#m_n30" x="162.32" y="137.45"/><use href="#m_n30" x="167.06" y="136.81"/><use href="#m_n30" x="171.80" y="136.23"/><use href="#m_n30" x="176.54" y="135.71"/><use href="#m_n30" x="181.28" y="135.24"/><use href="#m_n30" x="186.02" y="134.80"/><use href="#m_n30" x="190.76" y="134.40"/><use href="#m_n30" x="195.50" y="134.03"/><use href="#m_n30" x="200.24" y="133.69"/><use href="#m_n30" x="204.97" y="133.37"/><use href="#m_n30" x="209.71" y="133.07"/><use href="#m_n30" x="214.45" y="132.79"/><use href="#m_n30" x="219.19" y="132.52"/><use href="#m_n30" x="223.93" y="132.27"/><use href="#m_n30" x="228.67" y="132.03"/><use href="#m_n30" x="233.41" y="131.80"/><use href="#m_n30" x="238.15" y="131.59"/><use href="#m_n30" x="242.89" y="131.38"/><use href="#m_n30" x="247.63" y="131.18"/><use href="#m_n30" x="252.37" y="130.99"/><use href="#m_n30" x="257.11" y="130.81"/><use href="#m_n30" x="261.85" y="130.63"/><use href="#m_n30" x="266.59" y="130.46"/><use href="#m_n30" x="271.33" y="130.30"/><use href="#m_n30" x="276.07" y="130.15"/><use href="#m_n30" x="280.80" y="130.00"/><use href="#m_n30" x="285.54" y="129.86"/><use href="#m_n30" x="290.28" y="129.72"/><use href="#m_n30" x="295.02" y="129.58"/><use href="#m_n30" x="299.76" y="129.45"/><use href="#m_n30" x="304.50" y="129.32"/><use href="#m_n30" x="309.24" y="129.20"/><use href="#m_n30" x="313.98" y="129.07"/><use href="#m_n30" x="318.72" y="128.95"/><use href="#m_n30" x="323.46" y="128.84"/><use href="#m_n30" x="328.20" y="128.72"/><use href="#m_n30" x="332.94" y="128.61"/><use href="#m_n30" x="337.68" y="128.49"/><use href="#m_n30" x="342.42" y="128.38"/><use href="#m_n30" x="347.16" y="128.27"/><use href="#m_n30" x="351.90" y="128.17"/><use href="#m_n30" x="356.64" y="128.06"/><use href="#m_n30" x="361.37" y="127.96"/><use href="#m_n30" x="366.11" y="127.85"/><use href="#m_n30" x="370.85" y="127.75"/><use href="#m_n30" x="375.59" y="127.65"/><use href="#m_n30" x="380.33" y="127.55"/><use href="#m_n30" x="385.07" y="127.46"/><use href="#m_n30" x="389.81" y="127.36"/><use href="#m_n30" x="394.55" y="127.26"/><use href="#m_n30" x="399.29" y="127.17"/><use href="#m_n30" x="404.03" y="127.07"/><use href="#m_n30" x="408.77" y="126.98"/><use href="#m_n30" x="413.51" y="126.89"/><use href="#m_n30" x="418.25" y="126.80"/><use href="#m_n30" x="422.99" y="126.71"/><use href="#m_n30" x="427.73" y="126.62"/><use href="#m_n30" x="432.47" y="126.53"/><use href="#m_n30" x="437.20" y="126.44"/><use href="#m_n30" x="441.94" y="126.35"/><use href="#m_n30" x="446.68" y="126.26"/><use href="#m_n30" x="451.42" y="126.17"/><use href="#m_n30" x="456.16" y="126.09"/><use href="#m_n30" x="460.90" y="126.00"/><use href="#m_n30" x="465.64" y="125.92"/><use href="#m_n30" x="470.38" y="125.83"/><use href="#m_n30" x="475.12" y="125.75"/><use href="#m_n30" x="479.86" y="125.66"/><use href="#m_n30" x="484.60" y="125.58"/><use href="#m_n30" x="489.34" y="125.50"/><use href="#m_n30" x="494.08" y="125.41"/><use href="#m_n30" x="498.82" y="125.33"/><use href="#m_n30" x="503.56" y="125.25"/><use href="#m_n30" x="508.30" y="125.17"/><use href="#m_n30" x="513.04" y="125.09"/><use href="#m_n30" x="517.77" y="125.01"/><use href="#m_n30" x="522.51" y="124.93"/><use href="#m_n30" x="527.25" y="124.85"/><use href="#m_n30" x="531.99" y="124.77"/><use href="#m_n30" x="536.73" y="124.69"/><use href="#m_n30" x="541.47" y="124.61"/><use href="#m_n30" x="546.21" y="124.53"/><use href="#m_n30" x="550.95" y="124.45"/><use href="#m_n30" x="555.69" y="124.37"/></g><path d="M86.49 265.70L91.23 220.11L95.97 200.26L100.71 189.68L105.45 183.17L110.19 178.58L114.93 175.29L119.67 172.83L124.40 170.84L129.14 169.25L133.88 167.94L138.62 166.85L143.36 165.92L148.10 165.12L152.84 164.42L157.58 163.81L162.32 163.26L167.06 162.77L171.80 162.32L176.54 161.91L181.28 161.53L186.02 161.19L190.76 160.86L195.50 160.56L200.24 160.27L204.97 160.00L209.71 159.75L214.45 159.51L219.19 159.28L223.93 159.05L228.67 158.87L233.41 158.68L238.15 158.51L242.89 158.34L247.63 158.18L252.37 158.02L257.11 157.87L261.85 157.72L266.59 157.57L271.33 157.43L276.07 157.29L280.80 157.16L285.54 157.02L290.28 156.89L295.02 156.76L299.76 156.64L304.50 156.51L309.24 156.39L313.98 156.27L318.72 156.15L323.46 156.04L328.20 155.92L332.94 155.81L337.68 155.70L342.42 155.58L347.16 155.47L351.90 155.36L356.64 155.26L361.37 155.15L366.11 155.04L370.85 154.94L375.59 154.83L380.33 154.73L385.07 154.63L389.81 154.53L394.55 154.43L399.29 154.32L404.03 154.22L408.77 154.13L413.51 154.03L418.25 153.93L422.99 153.83L427.73 153.73L432.47 153.64L437.20 153.54L441.94 153.45L446.68 153.35L451.42 153.26L456.16 153.16L460.90 153.07L465.64 152.98L470.38 152.88L475.12 152.79L479.86 152.70L484.60 152.61L489.34 152.52L494.08 152.42L498.82 152.33L503.56 152.24L508.30 152.15L513.04 152.06L517.77 151.97L522.51 151.89L527.25 151.80L531.99 151.71L536.73 151.62L541.47 151.53L546.21 151.44L550.95 151.36L555.69 151.27" stroke="#18e418" stroke-width="1.1" fill="none" stroke-dasharray="4 2.5"/><g><use href="#m_n20" x="86.49" y="265.70"/><use href="#m_n20" x="91.23" y="220.11"/><use href="#m_n20" x="95.97" y="200.26"/><use href="#m_n20" x="100.71" y="189.68"/><use href="#m_n20" x="105.45" y="183.17"/><use href="#m_n20" x="110.19" y="178.58"/><use href="#m_n20" x="114.93" y="175.29"/><use href="#m_n20" x="119.67" y="172.83"/><use href="#m_n20" x="124.40" y="170.84"/><use href="#m_n20" x="129.14" y="169.25"/><use href="#m_n20" x="133.88" y="167.94"/><use href="#m_n20" x="138.62" y="166.85"/><use href="#m_n20" x="143.36" y="165.92"/><use href="#m_n20" x="148.10" y="165.12"/><use href="#m_n20" x="152.84" y="164.42"/><use href="#m_n20" x="157.58" y="163.81"/><use href="#m_n20" x="162.32" y="163.26"/><use href="#m_n20" x="167.06" y="162.77"/><use href="#m_n20" x="171.80" y="162.32"/><use href="#m_n20" x="176.54" y="161.91"/><use href="#m_n20" x="181.28" y="161.53"/><use href="#m_n20" x="186.02" y="161.19"/><use href="#m_n20" x="190.76" y="160.86"/><use href="#m_n20" x="195.50" y="160.56"/><use href="#m_n20" x="200.24" y="160.27"/><use href="#m_n20" x="204.97" y="160.00"/><use href="#m_n20" x="209.71" y="159.75"/><use href="#m_n20" x="214.45" y="159.51"/><use href="#m_n20" x="219.19" y="159.28"/><use href="#m_n20" x="223.93" y="159.05"/><use href="#m_n20" x="228.67" y="158.87"/><use href="#m_n20" x="233.41" y="158.68"/><use href="#m_n20" x="238.15" y="158.51"/><use href="#m_n20" x="242.89" y="158.34"/><use href="#m_n20" x="247.63" y="158.18"/><use href="#m_n20" x="252.37" y="158.02"/><use href="#m_n20" x="257.11" y="157.87"/><use href="#m_n20" x="261.85" y="157.72"/><use href="#m_n20" x="266.59" y="157.57"/><use href="#m_n20" x="271.33" y="157.43"/><use href="#m_n20" x="276.07" y="157.29"/><use href="#m_n20" x="280.80" y="157.16"/><use href="#m_n20" x="285.54" y="157.02"/><use href="#m_n20" x="290.28" y="156.89"/><use href="#m_n20" x="295.02" y="156.76"/><use href="#m_n20" x="299.76" y="156.64"/><use href="#m_n20" x="304.50" y="156.51"/><use href="#m_n20" x="309.24" y="156.39"/><use href="#m_n20" x="313.98" y="156.27"/><use href="#m_n20" x="318.72" y="156.15"/><use href="#m_n20" x="323.46" y="156.04"/><use href="#m_n20" x="328.20" y="155.92"/><use href="#m_n20" x="332.94" y="155.81"/><use href="#m_n20" x="337.68" y="155.70"/><use href="#m_n20" x="342.42" y="155.58"/><use href="#m_n20" x="347.16" y="155.47"/><use href="#m_n20" x="351.90" y="155.36"/><use href="#m_n20" x="356.64" y="155.26"/><use href="#m_n20" x="361.37" y="155.15"/><use href="#m_n20" x="366.11" y="155.04"/><use href="#m_n20" x="370.85" y="154.94"/><use href="#m_n20" x="375.59" y="154.83"/><use href="#m_n20" x="380.33" y="154.73"/><use href="#m_n20" x="385.07" y="154.63"/><use href="#m_n20" x="389.81" y="154.53"/><use href="#m_n20" x="394.55" y="154.43"/><use href="#m_n20" x="399.29" y="154.32"/><use href="#m_n20" x="404.03" y="154.22"/><use href="#m_n20" x="408.77" y="154.13"/><use href="#m_n20" x="413.51" y="154.03"/><use href="#m_n20" x="418.25" y="153.93"/><use href="#m_n20" x="422.99" y="153.83"/><use href="#m_n20" x="427.73" y="153.73"/><use href="#m_n20" x="432.47" y="153.64"/><use href="#m_n20" x="437.20" y="153.54"/><use href="#m_n20" x="441.94" y="153.45"/><use href="#m_n20" x="446.68" y="153.35"/><use href="#m_n20" x="451.42" y="153.26"/><use href="#m_n20" x="456.16" y="153.16"/><use href="#m_n20" x="460.90" y="153.07"/><use href="#m_n20" x="465.64" y="152.98"/><use href="#m_n20" x="470.38" y="152.88"/><use href="#m_n20" x="475.12" y="152.79"/><use href="#m_n20" x="479.86" y="152.70"/><use href="#m_n20" x="484.60" y="152.61"/><use href="#m_n20" x="489.34" y="152.52"/><use href="#m_n20" x="494.08" y="152.42"/><use href="#m_n20" x="498.82" y="152.33"/><use href="#m_n20" x="503.56" y="152.24"/><use href="#m_n20" x="508.30" y="152.15"/><use href="#m_n20" x="513.04" y="152.06"/><use href="#m_n20" x="517.77" y="151.97"/><use href="#m_n20" x="522.51" y="151.89"/><use href="#m_n20" x="527.25" y="151.80"/><use href="#m_n20" x="531.99" y="151.71"/><use href="#m_n20" x="536.73" y="151.62"/><use href="#m_n20" x="541.47" y="151.53"/><use href="#m_n20" x="546.21" y="151.44"/><use href="#m_n20" x="550.95" y="151.36"/><use href="#m_n20" x="555.69" y="151.27"/></g><path d="M86.49 271.86L91.23 240.87L95.97 228.85L100.71 222.56L105.45 218.74L110.19 215.98L114.93 214.00L119.67 212.51L124.40 211.34L129.14 210.41L133.88 209.61L138.62 208.93L143.36 208.36L148.10 207.85L152.84 207.41L157.58 207.01L162.32 206.66L167.06 206.34L171.80 206.04L176.54 205.77L181.28 205.48L186.02 205.20L190.76 204.94L195.50 204.70L200.24 204.47L204.97 204.25L209.71 204.04L214.45 203.83L219.19 203.64L223.93 203.45L228.67 203.28L233.41 203.10L238.15 202.93L242.89 202.77L247.63 202.61L252.37 202.46L257.11 202.31L261.85 202.16L266.59 202.02L271.33 201.88L276.07 201.76L280.80 201.64L285.54 201.53L290.28 201.42L295.02 201.31L299.76 201.20L304.50 201.09L309.24 200.99L313.98 200.88L318.72 200.78L323.46 200.68L328.20 200.58L332.94 200.48L337.68 200.38L342.42 200.28L347.16 200.18L351.90 200.09L356.64 199.99L361.37 199.90L366.11 199.81L370.85 199.72L375.59 199.62L380.33 199.53L385.07 199.44L389.81 199.35L394.55 199.26L399.29 199.17L404.03 199.09L408.77 199.00L413.51 198.91L418.25 198.82L422.99 198.74L427.73 198.65L432.47 198.57L437.20 198.48L441.94 198.40L446.68 198.31L451.42 198.23L456.16 198.15L460.90 198.06L465.64 197.98L470.38 197.90L475.12 197.82L479.86 197.73L484.60 197.65L489.34 197.57L494.08 197.49L498.82 197.41L503.56 197.33L508.30 197.25L513.04 197.17L517.77 197.09L522.51 197.01L527.25 196.93L531.99 196.85L536.73 196.78L541.47 196.70L546.21 196.62L550.95 196.54L555.69 196.46" stroke="#000000" stroke-width="1.1" fill="none" stroke-dasharray="4 2.5"/><g><use href="#m_n10" x="86.49" y="271.86"/><use href="#m_n10" x="91.23" y="240.87"/><use href="#m_n10" x="95.97" y="228.85"/><use href="#m_n10" x="100.71" y="222.56"/><use href="#m_n10" x="105.45" y="218.74"/><use href="#m_n10" x="110.19" y="215.98"/><use href="#m_n10" x="114.93" y="214.00"/><use href="#m_n10" x="119.67" y="212.51"/><use href="#m_n10" x="124.40" y="211.34"/><use href="#m_n10" x="129.14" y="210.41"/><use href="#m_n10" x="133.88" y="209.61"/><use href="#m_n10" x="138.62" y="208.93"/><use href="#m_n10" x="143.36" y="208.36"/><use href="#m_n10" x="148.10" y="207.85"/><use href="#m_n10" x="152.84" y="207.41"/><use href="#m_n10" x="157.58" y="207.01"/><use href="#m_n10" x="162.32" y="206.66"/><use href="#m_n10" x="167.06" y="206.34"/><use href="#m_n10" x="171.80" y="206.04"/><use href="#m_n10" x="176.54" y="205.77"/><use href="#m_n10" x="181.28" y="205.48"/><use href="#m_n10" x="186.02" y="205.20"/><use href="#m_n10" x="190.76" y="204.94"/><use href="#m_n10" x="195.50" y="204.70"/><use href="#m_n10" x="200.24" y="204.47"/><use href="#m_n10" x="204.97" y="204.25"/><use href="#m_n10" x="209.71" y="204.04"/><use href="#m_n10" x="214.45" y="203.83"/><use href="#m_n10" x="219.19" y="203.64"/><use href="#m_n10" x="223.93" y="203.45"/><use href="#m_n10" x="228.67" y="203.28"/><use href="#m_n10" x="233.41" y="203.10"/><use href="#m_n10" x="238.15" y="202.93"/><use href="#m_n10" x="242.89" y="202.77"/><use href="#m_n10" x="247.63" y="202.61"/><use href="#m_n10" x="252.37" y="202.46"/><use href="#m_n10" x="257.11" y="202.31"/><use href="#m_n10" x="261.85" y="202.16"/><use href="#m_n10" x="266.59" y="202.02"/><use href="#m_n10" x="271.33" y="201.88"/><use href="#m_n10" x="276.07" y="201.76"/><use href="#m_n10" x="280.80" y="201.64"/><use href="#m_n10" x="285.54" y="201.53"/><use href="#m_n10" x="290.28" y="201.42"/><use href="#m_n10" x="295.02" y="201.31"/><use href="#m_n10" x="299.76" y="201.20"/><use href="#m_n10" x="304.50" y="201.09"/><use href="#m_n10" x="309.24" y="200.99"/><use href="#m_n10" x="313.98" y="200.88"/><use href="#m_n10" x="318.72" y="200.78"/><use href="#m_n10" x="323.46" y="200.68"/><use href="#m_n10" x="328.20" y="200.58"/><use href="#m_n10" x="332.94" y="200.48"/><use href="#m_n10" x="337.68" y="200.38"/><use href="#m_n10" x="342.42" y="200.28"/><use href="#m_n10" x="347.16" y="200.18"/><use href="#m_n10" x="351.90" y="200.09"/><use href="#m_n10" x="356.64" y="199.99"/><use href="#m_n10" x="361.37" y="199.90"/><use href="#m_n10" x="366.11" y="199.81"/><use href="#m_n10" x="370.85" y="199.72"/><use href="#m_n10" x="375.59" y="199.62"/><use href="#m_n10" x="380.33" y="199.53"/><use href="#m_n10" x="385.07" y="199.44"/><use href="#m_n10" x="389.81" y="199.35"/><use href="#m_n10" x="394.55" y="199.26"/><use href="#m_n10" x="399.29" y="199.17"/><use href="#m_n10" x="404.03" y="199.09"/><use href="#m_n10" x="408.77" y="199.00"/><use href="#m_n10" x="413.51" y="198.91"/><use href="#m_n10" x="418.25" y="198.82"/><use href="#m_n10" x="422.99" y="198.74"/><use href="#m_n10" x="427.73" y="198.65"/><use href="#m_n10" x="432.47" y="198.57"/><use href="#m_n10" x="437.20" y="198.48"/><use href="#m_n10" x="441.94" y="198.40"/><use href="#m_n10" x="446.68" y="198.31"/><use href="#m_n10" x="451.42" y="198.23"/><use href="#m_n10" x="456.16" y="198.15"/><use href="#m_n10" x="460.90" y="198.06"/><use href="#m_n10" x="465.64" y="197.98"/><use href="#m_n10" x="470.38" y="197.90"/><use href="#m_n10" x="475.12" y="197.82"/><use href="#m_n10" x="479.86" y="197.73"/><use href="#m_n10" x="484.60" y="197.65"/><use href="#m_n10" x="489.34" y="197.57"/><use href="#m_n10" x="494.08" y="197.49"/><use href="#m_n10" x="498.82" y="197.41"/><use href="#m_n10" x="503.56" y="197.33"/><use href="#m_n10" x="508.30" y="197.25"/><use href="#m_n10" x="513.04" y="197.17"/><use href="#m_n10" x="517.77" y="197.09"/><use href="#m_n10" x="522.51" y="197.01"/><use href="#m_n10" x="527.25" y="196.93"/><use href="#m_n10" x="531.99" y="196.85"/><use href="#m_n10" x="536.73" y="196.78"/><use href="#m_n10" x="541.47" y="196.70"/><use href="#m_n10" x="546.21" y="196.62"/><use href="#m_n10" x="550.95" y="196.54"/><use href="#m_n10" x="555.69" y="196.46"/></g><path d="M86.49 293.30L91.23 273.70L95.97 268.00L100.71 264.30L105.45 261.70L110.19 259.40L114.93 257.82L119.67 256.70L124.40 255.98L129.14 255.40L133.88 254.83L138.62 254.30L143.36 253.82L148.10 253.40L152.84 253.02L157.58 252.68L162.32 252.37L167.06 252.10L171.80 251.87L176.54 251.68L181.28 251.51L186.02 251.34L190.76 251.17L195.50 250.99L200.24 250.79L204.97 250.57L209.71 250.32L214.45 250.06L219.19 249.80L223.93 249.53L228.67 249.27L233.41 249.03L238.15 248.79L242.89 248.57L247.63 248.35L252.37 248.13L257.11 247.92L261.85 247.72L266.59 247.52L271.33 247.33L276.07 247.14L280.80 246.97L285.54 246.80L290.28 246.63L295.02 246.47L299.76 246.32L304.50 246.17L309.24 246.02L313.98 245.88L318.72 245.74L323.46 245.60L328.20 245.47L332.94 245.34L337.68 245.21L342.42 245.08L347.16 244.95L351.90 244.82L356.64 244.69L361.37 244.56L366.11 244.42L370.85 244.28L375.59 244.13L380.33 243.99L385.07 243.84L389.81 243.70L394.55 243.56L399.29 243.42L404.03 243.29L408.77 243.15L413.51 243.02L418.25 242.89L422.99 242.76L427.73 242.63L432.47 242.50L437.20 242.37L441.94 242.25L446.68 242.13L451.42 242.02L456.16 241.92L460.90 241.81L465.64 241.69L470.38 241.57L475.12 241.44L479.86 241.30L484.60 241.14L489.34 240.95L494.08 240.74L498.82 240.52L503.56 240.30L508.30 240.08L513.04 239.88L517.77 239.69L522.51 239.52L527.25 239.35L531.99 239.20L536.73 239.05L541.47 238.90L546.21 238.76L550.95 238.63L555.69 238.50" stroke="#b81a1a" stroke-width="1.45" fill="none" stroke-linejoin="round"/></g>
<g opacity="0.995"><text transform="translate(478.83 67.75) scale(0.9663 1)" font-size="15.95"><tspan font-style="italic">N</tspan></text><text transform="translate(512.01 67.75) scale(1.0000 1)" font-size="15.95">100</text><text transform="translate(496.18 69.19) scale(1.2132 1)" font-size="15.95">=</text><text transform="translate(440.38 111.40) scale(0.9437 1)" font-size="16.34"><tspan font-style="italic">N</tspan></text><text transform="translate(473.72 111.40) scale(1.0000 1)" font-size="16.34">50</text><text transform="translate(457.58 112.87) scale(1.1848 1)" font-size="16.34">=</text><text transform="translate(339.38 150.00) scale(0.9437 1)" font-size="16.34"><tspan font-style="italic">N</tspan></text><text transform="translate(373.02 150.00) scale(1.0000 1)" font-size="16.34">30</text><text transform="translate(356.65 151.47) scale(1.1848 1)" font-size="16.34">=</text><text transform="translate(290.78 179.40) scale(0.9710 1)" font-size="15.88"><tspan font-style="italic">N</tspan></text><text transform="translate(323.46 179.40) scale(1.0000 1)" font-size="15.88">20</text><text transform="translate(307.52 180.83) scale(1.2190 1)" font-size="15.88">=</text><text transform="translate(235.08 230.30) scale(0.9804 1)" font-size="15.73"><tspan font-style="italic">N</tspan></text><text transform="translate(268.60 230.30) scale(1.0000 1)" font-size="15.73">10</text><text transform="translate(252.59 231.72) scale(1.2308 1)" font-size="15.73">=</text><text transform="translate(184.38 266.00) scale(0.9804 1)" font-size="15.73"><tspan font-style="italic">N</tspan></text><text transform="translate(217.77 266.00) scale(1.0000 1)" font-size="15.73">5</text><text transform="translate(201.59 267.42) scale(1.2308 1)" font-size="15.73">=</text></g>
<rect x="82.15" y="31.70" width="474.45" height="325.95" fill="none" stroke="#151515" stroke-width="1.7"/>
<g opacity="0.995"><text transform="translate(50.07 37.10) scale(0.9819 1)" font-size="18.50">10</text><text transform="translate(68.13 30.40) scale(0.9929 1)" font-size="13.86">6</text><text transform="translate(50.07 198.75) scale(1.0022 1)" font-size="18.12">10</text><text transform="translate(67.93 192.50) scale(0.9700 1)" font-size="14.05">5</text><text transform="translate(50.07 365.00) scale(0.9981 1)" font-size="18.20">10</text><text transform="translate(68.03 358.75) scale(0.9363 1)" font-size="14.47">4</text><text transform="translate(77.35 379.70) scale(1.0800 1)" font-size="17.59">0</text><text transform="translate(112.97 379.70) scale(1.0800 1)" font-size="17.59">100</text><text transform="translate(161.80 379.70) scale(1.0800 1)" font-size="17.59">200</text><text transform="translate(210.65 379.70) scale(1.0800 1)" font-size="17.59">300</text><text transform="translate(257.94 379.70) scale(1.0800 1)" font-size="17.59">400</text><text transform="translate(305.56 379.70) scale(1.0800 1)" font-size="17.59">500</text><text transform="translate(353.20 379.70) scale(1.0800 1)" font-size="17.59">600</text><text transform="translate(399.71 379.70) scale(1.0800 1)" font-size="17.59">700</text><text transform="translate(448.25 379.70) scale(1.0800 1)" font-size="17.59">800</text><text transform="translate(495.84 379.70) scale(1.0800 1)" font-size="17.59">900</text><text transform="translate(539.22 379.70) scale(1.0800 1)" font-size="17.59">1000</text><text transform="translate(199.55 403.30) scale(1.0930 1)" font-size="17.58">Size of contention window (CW)</text><g transform="translate(36.0 272.4) rotate(-90)"><text transform="translate(-0.18 0.00) scale(0.9851 1)" font-size="18.64">Access delay (usecs.)</text></g></g>
<g opacity="0.995"><path d="M80.8 445.3H113.0" stroke="#b81a1a" stroke-width="1.3"/><text transform="translate(128.40 452.20) scale(1.0407 1)" font-size="19.08"><tspan font-style="italic">N</tspan></text><text transform="translate(166.22 452.20) scale(1.0000 1)" font-size="19.08">5</text><text transform="translate(148.54 453.92) scale(1.1945 1)" font-size="19.08">=</text><path d="M80.8 470.0H89.0M91.3 470.0H102.3M105.69999999999999 470.0H113.0" stroke="#000000" stroke-width="1.3"/><use href="#lm_n10" x="97.0" y="470.0"/><text transform="translate(128.40 475.80) scale(1.0751 1)" font-size="18.47"><tspan font-style="italic">N</tspan></text><text transform="translate(167.27 475.80) scale(1.0000 1)" font-size="18.47">10</text><text transform="translate(149.32 477.46) scale(1.2340 1)" font-size="18.47">=</text><path d="M80.8 494.0H89.0M91.3 494.0H102.3M105.69999999999999 494.0H113.0" stroke="#18e418" stroke-width="1.3"/><use href="#m_n20" x="97.0" y="493.8"/><text transform="translate(128.40 500.30) scale(1.0576 1)" font-size="18.78"><tspan font-style="italic">N</tspan></text><text transform="translate(166.67 500.30) scale(1.0000 1)" font-size="18.78">20</text><text transform="translate(148.62 501.99) scale(1.2139 1)" font-size="18.78">=</text><path d="M343.0 445.4H350.6M353.5 445.4H364.5M367.8 445.4H375.0" stroke="#12eaea" stroke-width="1.3"/><use href="#m_n30" x="358.0" y="445.9"/><text transform="translate(387.00 452.30) scale(1.0325 1)" font-size="19.24"><tspan font-style="italic">N</tspan></text><text transform="translate(424.43 452.30) scale(1.0000 1)" font-size="19.24">30</text><text transform="translate(406.86 454.03) scale(1.1850 1)" font-size="19.24">=</text><path d="M343.0 470.0H350.6M353.5 470.0H364.5M367.8 470.0H375.0" stroke="#1010d0" stroke-width="1.3"/><use href="#lm_n50" x="359.3" y="470.3"/><text transform="translate(387.00 475.70) scale(1.0491 1)" font-size="18.93"><tspan font-style="italic">N</tspan></text><text transform="translate(424.73 475.70) scale(1.0000 1)" font-size="18.93">50</text><text transform="translate(407.09 477.40) scale(1.2041 1)" font-size="18.93">=</text><path d="M343.0 494.8H350.6M353.5 494.8H364.5M367.8 494.8H375.0" stroke="#d414d4" stroke-width="1.3"/><use href="#m_n100" x="359.6" y="495.5"/><text transform="translate(387.00 500.60) scale(1.0576 1)" font-size="18.78"><tspan font-style="italic">N</tspan></text><text transform="translate(425.28 500.60) scale(1.0000 1)" font-size="18.78">100</text><text transform="translate(407.65 502.29) scale(1.2139 1)" font-size="18.78">=</text></g>
</svg></body></html>
